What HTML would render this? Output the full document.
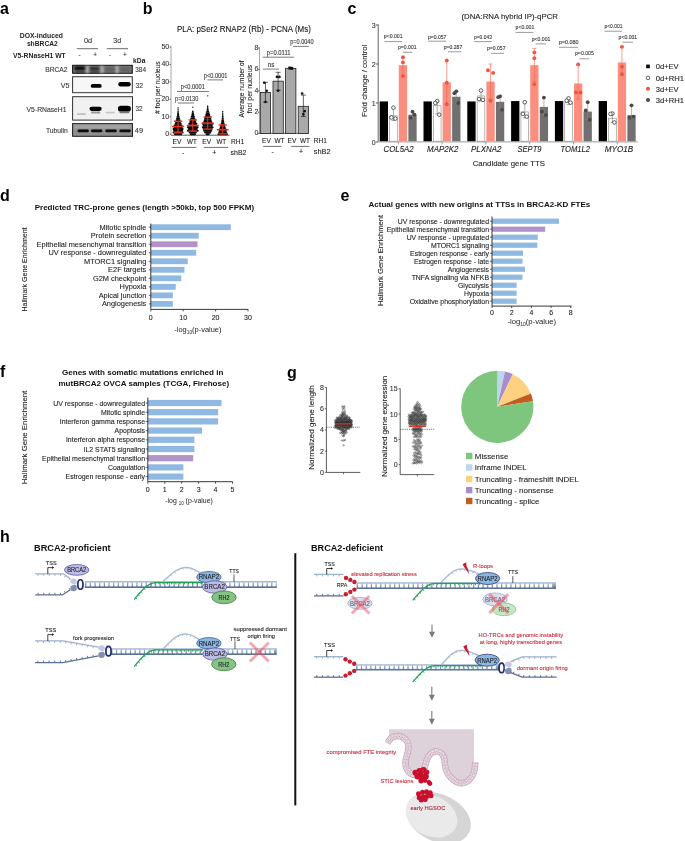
<!DOCTYPE html>
<html><head><meta charset="utf-8"><style>
html,body{margin:0;padding:0;background:#fff;}
body{width:685px;height:841px;overflow:hidden;}
svg{display:block;font-family:"Liberation Sans", sans-serif;will-change:transform;}
</style></head><body>
<svg width="685" height="841" viewBox="0 0 685 841" font-family='"Liberation Sans", sans-serif'>
<defs>
<linearGradient id="dg" x1="0" y1="0" x2="0" y2="1"><stop offset="0" stop-color="#b4c5dc"/><stop offset="1" stop-color="#5f7597"/></linearGradient>
<filter id="bl" x="-50%" y="-50%" width="200%" height="200%"><feGaussianBlur stdDeviation="0.7"/></filter>
<filter id="bl2" x="-50%" y="-50%" width="200%" height="200%"><feGaussianBlur stdDeviation="1.2"/></filter>
<filter id="bl3" x="-20%" y="-20%" width="140%" height="140%"><feGaussianBlur stdDeviation="0.4"/></filter>
</defs>
<text x="0.00" y="13.80" font-size="16" fill="#000" font-weight="bold" >a</text>
<text x="142.80" y="13.90" font-size="16" fill="#000" font-weight="bold" >b</text>
<text x="347.50" y="14.00" font-size="16" fill="#000" font-weight="bold" >c</text>
<text x="0.00" y="201.00" font-size="16" fill="#000" font-weight="bold" >d</text>
<text x="340.40" y="200.50" font-size="16" fill="#000" font-weight="bold" >e</text>
<text x="0.10" y="376.70" font-size="16" fill="#000" font-weight="bold" >f</text>
<text x="287.00" y="377.50" font-size="16" fill="#000" font-weight="bold" >g</text>
<text x="0.00" y="541.80" font-size="16" fill="#000" font-weight="bold" >h</text>
<text x="19.70" y="38.10" font-size="7.4" fill="#222" font-weight="bold" textLength="43.30" lengthAdjust="spacingAndGlyphs" >DOX-induced</text>
<text x="26.90" y="46.00" font-size="7.4" fill="#222" font-weight="bold" textLength="30.90" lengthAdjust="spacingAndGlyphs" >shBRCA2</text>
<text x="13.10" y="57.80" font-size="7.4" fill="#222" font-weight="bold" textLength="52.60" lengthAdjust="spacingAndGlyphs" >V5-RNaseH1 WT</text>
<text x="84.00" y="43.10" font-size="7" fill="#333" stroke="#333" stroke-width="0.1" textLength="8.20" lengthAdjust="spacingAndGlyphs" >0d</text>
<text x="113.20" y="43.10" font-size="7" fill="#333" stroke="#333" stroke-width="0.1" textLength="7.90" lengthAdjust="spacingAndGlyphs" >3d</text>
<line x1="76.80" y1="48.70" x2="98.10" y2="48.70" stroke="#444" stroke-width="0.8" />
<line x1="106.90" y1="48.70" x2="128.10" y2="48.70" stroke="#444" stroke-width="0.8" />
<text x="79.70" y="57.20" font-size="6.5" fill="#333" stroke="#333" stroke-width="0.1" text-anchor="middle" >-</text>
<text x="95.20" y="57.20" font-size="6.5" fill="#333" stroke="#333" stroke-width="0.1" text-anchor="middle" >+</text>
<text x="110.00" y="57.20" font-size="6.5" fill="#333" stroke="#333" stroke-width="0.1" text-anchor="middle" >-</text>
<text x="124.80" y="57.20" font-size="6.5" fill="#333" stroke="#333" stroke-width="0.1" text-anchor="middle" >+</text>
<text x="133.00" y="63.10" font-size="7" fill="#222" font-weight="bold" textLength="12.40" lengthAdjust="spacingAndGlyphs" >kDa</text>
<text x="45.20" y="72.10" font-size="7.4" fill="#333" stroke="#333" stroke-width="0.1" textLength="22.30" lengthAdjust="spacingAndGlyphs" >BRCA2</text>
<text x="60.80" y="87.50" font-size="7.4" fill="#333" stroke="#333" stroke-width="0.1" textLength="8.70" lengthAdjust="spacingAndGlyphs" >V5</text>
<text x="26.60" y="111.60" font-size="7.4" fill="#333" stroke="#333" stroke-width="0.1" textLength="39.90" lengthAdjust="spacingAndGlyphs" >V5-RNaseH1</text>
<text x="46.00" y="132.50" font-size="7.4" fill="#333" stroke="#333" stroke-width="0.1" textLength="21.80" lengthAdjust="spacingAndGlyphs" >Tubulin</text>
<text x="135.20" y="72.10" font-size="7.4" fill="#333" stroke="#333" stroke-width="0.1" textLength="10.80" lengthAdjust="spacingAndGlyphs" >384</text>
<text x="135.50" y="87.60" font-size="7.4" fill="#333" stroke="#333" stroke-width="0.1" textLength="7.50" lengthAdjust="spacingAndGlyphs" >32</text>
<text x="135.40" y="111.40" font-size="7.4" fill="#333" stroke="#333" stroke-width="0.1" textLength="7.00" lengthAdjust="spacingAndGlyphs" >32</text>
<text x="134.80" y="132.50" font-size="7.4" fill="#333" stroke="#333" stroke-width="0.1" textLength="8.20" lengthAdjust="spacingAndGlyphs" >49</text>
<rect x="72.60" y="65.30" width="59.70" height="8.00" fill="#747474" stroke="#111" stroke-width="1" />
<g filter="url(#bl2)">
<rect x="85.40" y="66.00" width="4.00" height="7.00" fill="#a8a8a8" stroke="none" stroke-width="0" />
<rect x="99.80" y="66.00" width="4.00" height="7.00" fill="#a8a8a8" stroke="none" stroke-width="0" />
<rect x="115.00" y="66.00" width="4.00" height="7.00" fill="#a8a8a8" stroke="none" stroke-width="0" />
</g>
<rect x="74.20" y="66.60" width="11.00" height="3.40" rx="1.70" ry="1.70" fill="#000" filter="url(#bl2)"/>
<rect x="89.60" y="67.20" width="10.00" height="2.80" rx="1.40" ry="1.40" fill="#1e1e1e" filter="url(#bl2)"/>
<rect x="105.00" y="67.80" width="10.00" height="2.40" rx="1.20" ry="1.20" fill="#5a5a5a" filter="url(#bl2)"/>
<rect x="119.70" y="67.80" width="11.00" height="2.40" rx="1.20" ry="1.20" fill="#5c5c5c" filter="url(#bl2)"/>
<rect x="75.00" y="70.90" width="10.00" height="1.80" rx="0.90" ry="0.90" fill="#2a2a2a" filter="url(#bl2)"/>
<rect x="89.60" y="70.90" width="10.00" height="1.80" rx="0.90" ry="0.90" fill="#333" filter="url(#bl2)"/>
<rect x="105.00" y="71.00" width="10.00" height="1.60" rx="0.80" ry="0.80" fill="#5a5a5a" filter="url(#bl2)"/>
<rect x="120.20" y="71.00" width="10.00" height="1.60" rx="0.80" ry="0.80" fill="#5a5a5a" filter="url(#bl2)"/>
<rect x="72.60" y="76.70" width="59.70" height="16.00" fill="#f7f7f7" stroke="#333" stroke-width="1" />
<rect x="90.70" y="84.00" width="11.00" height="3.80" rx="1.90" ry="1.90" fill="#000" filter="url(#bl)"/>
<rect x="118.30" y="82.00" width="12.40" height="4.40" rx="2.20" ry="2.20" fill="#000" filter="url(#bl)"/>
<rect x="72.60" y="96.70" width="59.90" height="23.40" fill="#f1f1f1" stroke="#333" stroke-width="1" />
<rect x="89.50" y="106.70" width="12.20" height="4.20" rx="2.10" ry="2.10" fill="#000" filter="url(#bl)"/>
<rect x="117.90" y="105.70" width="13.00" height="6.00" rx="3.00" ry="3.00" fill="#000" filter="url(#bl)"/>
<rect x="90.85" y="111.60" width="9.50" height="2.00" rx="1.00" ry="1.00" fill="#9a9a9a" filter="url(#bl)"/>
<rect x="119.40" y="111.20" width="10.00" height="2.00" rx="1.00" ry="1.00" fill="#777" filter="url(#bl)"/>
<rect x="76.80" y="113.30" width="9.00" height="1.80" rx="0.90" ry="0.90" fill="#c0c0c0" filter="url(#bl)"/>
<rect x="105.35" y="111.80" width="9.50" height="1.60" rx="0.80" ry="0.80" fill="#c8c8c8" filter="url(#bl)"/>
<rect x="72.60" y="123.60" width="59.90" height="12.70" fill="#8e8e8e" stroke="#1a1a1a" stroke-width="1" />
<g filter="url(#bl2)">
<rect x="74.00" y="125.00" width="57.00" height="3.50" fill="#a6a6a6" stroke="none" stroke-width="0" />
</g>
<rect x="77.50" y="129.60" width="11.40" height="2.60" rx="1.30" ry="1.30" fill="#0c0c0c" filter="url(#bl3)"/>
<rect x="91.00" y="129.60" width="11.40" height="2.60" rx="1.30" ry="1.30" fill="#0c0c0c" filter="url(#bl3)"/>
<rect x="105.30" y="129.60" width="11.40" height="2.60" rx="1.30" ry="1.30" fill="#0c0c0c" filter="url(#bl3)"/>
<rect x="119.40" y="129.60" width="11.40" height="2.60" rx="1.30" ry="1.30" fill="#0c0c0c" filter="url(#bl3)"/>
<text x="177.00" y="31.80" font-size="8.2" fill="#111" stroke="#111" stroke-width="0.1" textLength="133.80" lengthAdjust="spacingAndGlyphs" >PLA: pSer2 RNAP2 (Rb) - PCNA (Ms)</text>
<line x1="171.00" y1="46.30" x2="171.00" y2="135.20" stroke="#a8a8a8" stroke-width="1.0" />
<line x1="171.00" y1="135.20" x2="229.50" y2="135.20" stroke="#333" stroke-width="0.8" />
<line x1="169.50" y1="134.20" x2="171.00" y2="134.20" stroke="#333" stroke-width="0.7" />
<text x="169.20" y="136.00" font-size="7.0" fill="#333" stroke="#333" stroke-width="0.1" text-anchor="end" >0</text>
<line x1="169.50" y1="116.76" x2="171.00" y2="116.76" stroke="#333" stroke-width="0.7" />
<text x="169.20" y="118.56" font-size="7.0" fill="#333" stroke="#333" stroke-width="0.1" text-anchor="end" >10</text>
<line x1="169.50" y1="99.32" x2="171.00" y2="99.32" stroke="#333" stroke-width="0.7" />
<text x="169.20" y="101.12" font-size="7.0" fill="#333" stroke="#333" stroke-width="0.1" text-anchor="end" >20</text>
<line x1="169.50" y1="81.88" x2="171.00" y2="81.88" stroke="#333" stroke-width="0.7" />
<text x="169.20" y="83.68" font-size="7.0" fill="#333" stroke="#333" stroke-width="0.1" text-anchor="end" >30</text>
<line x1="169.50" y1="64.44" x2="171.00" y2="64.44" stroke="#333" stroke-width="0.7" />
<text x="169.20" y="66.24" font-size="7.0" fill="#333" stroke="#333" stroke-width="0.1" text-anchor="end" >40</text>
<line x1="169.50" y1="47.00" x2="171.00" y2="47.00" stroke="#333" stroke-width="0.7" />
<text x="169.20" y="48.80" font-size="7.0" fill="#333" stroke="#333" stroke-width="0.1" text-anchor="end" >50</text>
<text x="159.60" y="87.60" font-size="7.3" fill="#222" stroke="#222" stroke-width="0.1" text-anchor="middle" textLength="52.60" lengthAdjust="spacingAndGlyphs" transform="rotate(-90 159.60 87.60)" ># foci per nucleus</text>
<g fill="#0a0a0a"><rect x="174.10" y="133.20" width="8.00" height="2.0" rx="0.8"/><rect x="172.60" y="131.46" width="11.00" height="2.0" rx="0.8"/><rect x="173.10" y="129.71" width="10.00" height="2.0" rx="0.8"/><rect x="172.60" y="127.97" width="11.00" height="2.0" rx="0.8"/><rect x="173.60" y="126.22" width="9.00" height="2.0" rx="0.8"/><rect x="173.60" y="124.48" width="9.00" height="2.0" rx="0.8"/><rect x="174.60" y="122.74" width="7.00" height="2.0" rx="0.8"/><rect x="175.10" y="120.99" width="6.00" height="2.0" rx="0.8"/><rect x="175.60" y="119.25" width="5.00" height="2.0" rx="0.8"/><rect x="176.10" y="117.50" width="4.00" height="2.0" rx="0.8"/><rect x="176.60" y="115.76" width="3.00" height="2.0" rx="0.8"/><rect x="176.90" y="114.02" width="2.40" height="2.0" rx="0.8"/><rect x="177.10" y="112.27" width="2.00" height="2.0" rx="0.8"/><rect x="177.40" y="110.53" width="1.40" height="2.0" rx="0.8"/></g>
<circle cx="178.10" cy="109.78" r="0.70" fill="#111" stroke="none" stroke-width="0" />
<circle cx="178.10" cy="108.04" r="0.70" fill="#111" stroke="none" stroke-width="0" />
<line x1="172.10" y1="126.53" x2="184.10" y2="126.53" stroke="#e8321e" stroke-width="1.5" />
<line x1="173.90" y1="121.29" x2="182.30" y2="121.29" stroke="#e8321e" stroke-width="1.4" />
<line x1="173.90" y1="132.46" x2="182.30" y2="132.46" stroke="#e8321e" stroke-width="1.4" />
<line x1="178.10" y1="121.29" x2="178.10" y2="132.46" stroke="#e8321e" stroke-width="1.1" />
<g fill="#0a0a0a"><rect x="189.80" y="133.20" width="6.00" height="2.0" rx="0.8"/><rect x="188.80" y="131.46" width="8.00" height="2.0" rx="0.8"/><rect x="187.00" y="129.71" width="11.60" height="2.0" rx="0.8"/><rect x="187.80" y="127.97" width="10.00" height="2.0" rx="0.8"/><rect x="187.00" y="126.22" width="11.60" height="2.0" rx="0.8"/><rect x="188.30" y="124.48" width="9.00" height="2.0" rx="0.8"/><rect x="188.30" y="122.74" width="9.00" height="2.0" rx="0.8"/><rect x="189.30" y="120.99" width="7.00" height="2.0" rx="0.8"/><rect x="189.80" y="119.25" width="6.00" height="2.0" rx="0.8"/><rect x="190.30" y="117.50" width="5.00" height="2.0" rx="0.8"/><rect x="190.80" y="115.76" width="4.00" height="2.0" rx="0.8"/><rect x="191.30" y="114.02" width="3.00" height="2.0" rx="0.8"/><rect x="191.60" y="112.27" width="2.40" height="2.0" rx="0.8"/><rect x="192.00" y="110.53" width="1.60" height="2.0" rx="0.8"/></g>
<circle cx="192.80" cy="107.17" r="0.70" fill="#111" stroke="none" stroke-width="0" />
<line x1="186.80" y1="125.48" x2="198.80" y2="125.48" stroke="#e8321e" stroke-width="1.5" />
<line x1="188.60" y1="119.90" x2="197.00" y2="119.90" stroke="#e8321e" stroke-width="1.4" />
<line x1="188.60" y1="131.06" x2="197.00" y2="131.06" stroke="#e8321e" stroke-width="1.4" />
<line x1="192.80" y1="119.90" x2="192.80" y2="131.06" stroke="#e8321e" stroke-width="1.1" />
<g fill="#0a0a0a"><rect x="205.70" y="133.20" width="4.00" height="2.0" rx="0.8"/><rect x="204.20" y="131.46" width="7.00" height="2.0" rx="0.8"/><rect x="203.20" y="129.71" width="9.00" height="2.0" rx="0.8"/><rect x="202.70" y="127.97" width="10.00" height="2.0" rx="0.8"/><rect x="201.90" y="126.22" width="11.60" height="2.0" rx="0.8"/><rect x="202.70" y="124.48" width="10.00" height="2.0" rx="0.8"/><rect x="201.90" y="122.74" width="11.60" height="2.0" rx="0.8"/><rect x="203.20" y="120.99" width="9.00" height="2.0" rx="0.8"/><rect x="203.70" y="119.25" width="8.00" height="2.0" rx="0.8"/><rect x="204.20" y="117.50" width="7.00" height="2.0" rx="0.8"/><rect x="204.70" y="115.76" width="6.00" height="2.0" rx="0.8"/><rect x="205.20" y="114.02" width="5.00" height="2.0" rx="0.8"/><rect x="205.70" y="112.27" width="4.00" height="2.0" rx="0.8"/><rect x="206.20" y="110.53" width="3.00" height="2.0" rx="0.8"/><rect x="206.70" y="108.78" width="2.00" height="2.0" rx="0.8"/><rect x="206.90" y="107.04" width="1.60" height="2.0" rx="0.8"/><rect x="207.10" y="105.30" width="1.20" height="2.0" rx="0.8"/></g>
<circle cx="207.70" cy="95.83" r="0.70" fill="#111" stroke="none" stroke-width="0" />
<line x1="201.70" y1="123.04" x2="213.70" y2="123.04" stroke="#e8321e" stroke-width="1.5" />
<line x1="203.50" y1="117.11" x2="211.90" y2="117.11" stroke="#e8321e" stroke-width="1.4" />
<line x1="203.50" y1="129.14" x2="211.90" y2="129.14" stroke="#e8321e" stroke-width="1.4" />
<line x1="207.70" y1="117.11" x2="207.70" y2="129.14" stroke="#e8321e" stroke-width="1.1" />
<g fill="#0a0a0a"><rect x="217.50" y="133.20" width="10.40" height="2.0" rx="0.8"/><rect x="218.20" y="131.46" width="9.00" height="2.0" rx="0.8"/><rect x="218.70" y="129.71" width="8.00" height="2.0" rx="0.8"/><rect x="219.20" y="127.97" width="7.00" height="2.0" rx="0.8"/><rect x="219.70" y="126.22" width="6.00" height="2.0" rx="0.8"/><rect x="220.20" y="124.48" width="5.00" height="2.0" rx="0.8"/><rect x="220.70" y="122.74" width="4.00" height="2.0" rx="0.8"/><rect x="221.10" y="120.99" width="3.20" height="2.0" rx="0.8"/><rect x="221.40" y="119.25" width="2.60" height="2.0" rx="0.8"/><rect x="221.70" y="117.50" width="2.00" height="2.0" rx="0.8"/><rect x="221.80" y="115.76" width="1.80" height="2.0" rx="0.8"/><rect x="222.00" y="114.02" width="1.40" height="2.0" rx="0.8"/><rect x="222.10" y="112.27" width="1.20" height="2.0" rx="0.8"/></g>
<circle cx="222.70" cy="111.53" r="0.70" fill="#111" stroke="none" stroke-width="0" />
<line x1="216.70" y1="129.67" x2="228.70" y2="129.67" stroke="#e8321e" stroke-width="1.5" />
<line x1="218.50" y1="124.96" x2="226.90" y2="124.96" stroke="#e8321e" stroke-width="1.4" />
<line x1="218.50" y1="133.85" x2="226.90" y2="133.85" stroke="#e8321e" stroke-width="1.4" />
<line x1="222.70" y1="124.96" x2="222.70" y2="133.85" stroke="#e8321e" stroke-width="1.1" />
<text x="177.00" y="143.90" font-size="7.3" fill="#222" stroke="#222" stroke-width="0.1" text-anchor="middle" textLength="8.90" lengthAdjust="spacingAndGlyphs" >EV</text>
<text x="191.90" y="143.90" font-size="7.3" fill="#222" stroke="#222" stroke-width="0.1" text-anchor="middle" textLength="9.80" lengthAdjust="spacingAndGlyphs" >WT</text>
<text x="206.70" y="143.90" font-size="7.3" fill="#222" stroke="#222" stroke-width="0.1" text-anchor="middle" textLength="8.90" lengthAdjust="spacingAndGlyphs" >EV</text>
<text x="221.30" y="143.90" font-size="7.3" fill="#222" stroke="#222" stroke-width="0.1" text-anchor="middle" textLength="9.80" lengthAdjust="spacingAndGlyphs" >WT</text>
<text x="231.00" y="143.90" font-size="7.4" fill="#222" stroke="#222" stroke-width="0.1" textLength="13.20" lengthAdjust="spacingAndGlyphs" >RH1</text>
<line x1="171.70" y1="147.40" x2="196.40" y2="147.40" stroke="#333" stroke-width="0.7" />
<line x1="203.80" y1="147.40" x2="228.00" y2="147.40" stroke="#333" stroke-width="0.7" />
<text x="183.20" y="155.00" font-size="7" fill="#222" stroke="#222" stroke-width="0.1" text-anchor="middle" >-</text>
<text x="214.30" y="155.20" font-size="7" fill="#222" stroke="#222" stroke-width="0.1" text-anchor="middle" >+</text>
<text x="230.60" y="155.20" font-size="7.4" fill="#222" stroke="#222" stroke-width="0.1" textLength="15.80" lengthAdjust="spacingAndGlyphs" >shB2</text>
<text x="203.80" y="78.10" font-size="6.3" fill="#333" stroke="#333" stroke-width="0.1" textLength="23.70" lengthAdjust="spacingAndGlyphs" >p&lt;0.0001</text>
<line x1="207.50" y1="79.90" x2="223.00" y2="79.90" stroke="#444" stroke-width="0.7" />
<text x="180.80" y="88.90" font-size="6.3" fill="#333" stroke="#333" stroke-width="0.1" textLength="24.10" lengthAdjust="spacingAndGlyphs" >p&lt;0.0001</text>
<line x1="177.00" y1="91.50" x2="208.80" y2="91.50" stroke="#444" stroke-width="0.7" />
<text x="175.00" y="100.70" font-size="6.3" fill="#333" stroke="#333" stroke-width="0.1" textLength="23.30" lengthAdjust="spacingAndGlyphs" >p=0.0130</text>
<line x1="177.80" y1="103.00" x2="194.00" y2="103.00" stroke="#444" stroke-width="0.7" />
<line x1="259.50" y1="47.20" x2="259.50" y2="133.30" stroke="#a8a8a8" stroke-width="1.0" />
<line x1="259.50" y1="133.30" x2="309.00" y2="133.30" stroke="#333" stroke-width="0.8" />
<line x1="258.00" y1="133.60" x2="259.50" y2="133.60" stroke="#333" stroke-width="0.7" />
<text x="258.40" y="135.40" font-size="7.0" fill="#333" stroke="#333" stroke-width="0.1" text-anchor="end" >0</text>
<line x1="258.00" y1="112.20" x2="259.50" y2="112.20" stroke="#333" stroke-width="0.7" />
<text x="258.40" y="114.00" font-size="7.0" fill="#333" stroke="#333" stroke-width="0.1" text-anchor="end" >2</text>
<line x1="258.00" y1="90.80" x2="259.50" y2="90.80" stroke="#333" stroke-width="0.7" />
<text x="258.40" y="92.60" font-size="7.0" fill="#333" stroke="#333" stroke-width="0.1" text-anchor="end" >4</text>
<line x1="258.00" y1="69.40" x2="259.50" y2="69.40" stroke="#333" stroke-width="0.7" />
<text x="258.40" y="71.20" font-size="7.0" fill="#333" stroke="#333" stroke-width="0.1" text-anchor="end" >6</text>
<line x1="258.00" y1="48.00" x2="259.50" y2="48.00" stroke="#333" stroke-width="0.7" />
<text x="258.40" y="49.80" font-size="7.0" fill="#333" stroke="#333" stroke-width="0.1" text-anchor="end" >8</text>
<text x="244.00" y="88.90" font-size="7.3" fill="#222" stroke="#222" stroke-width="0.1" text-anchor="middle" textLength="57.00" lengthAdjust="spacingAndGlyphs" transform="rotate(-90 244.00 88.90)" >Average number of</text>
<text x="252.20" y="89.20" font-size="7.3" fill="#222" stroke="#222" stroke-width="0.1" text-anchor="middle" textLength="48.30" lengthAdjust="spacingAndGlyphs" transform="rotate(-90 252.20 89.20)" >foci per nucleus</text>
<rect x="260.30" y="92.41" width="10.30" height="41.19" fill="#a9a9a9" stroke="#222" stroke-width="0.8" />
<line x1="265.45" y1="82.24" x2="265.45" y2="102.03" stroke="#222" stroke-width="0.7" />
<line x1="262.95" y1="82.24" x2="267.95" y2="82.24" stroke="#222" stroke-width="0.7" />
<line x1="262.95" y1="102.03" x2="267.95" y2="102.03" stroke="#222" stroke-width="0.7" />
<circle cx="264.25" cy="82.78" r="1.30" fill="#111" stroke="none" stroke-width="0" />
<circle cx="266.75" cy="90.80" r="1.30" fill="#111" stroke="none" stroke-width="0" />
<circle cx="265.45" cy="102.03" r="1.30" fill="#111" stroke="none" stroke-width="0" />
<rect x="273.00" y="81.17" width="10.30" height="52.43" fill="#a9a9a9" stroke="#222" stroke-width="0.8" />
<line x1="278.15" y1="72.29" x2="278.15" y2="90.27" stroke="#222" stroke-width="0.7" />
<line x1="275.65" y1="72.29" x2="280.65" y2="72.29" stroke="#222" stroke-width="0.7" />
<line x1="275.65" y1="90.27" x2="280.65" y2="90.27" stroke="#222" stroke-width="0.7" />
<circle cx="276.95" cy="76.89" r="1.30" fill="#111" stroke="none" stroke-width="0" />
<circle cx="279.45" cy="76.89" r="1.30" fill="#111" stroke="none" stroke-width="0" />
<circle cx="278.15" cy="90.80" r="1.30" fill="#111" stroke="none" stroke-width="0" />
<rect x="285.60" y="68.33" width="10.30" height="65.27" fill="#a9a9a9" stroke="#222" stroke-width="0.8" />
<line x1="290.75" y1="67.26" x2="290.75" y2="69.40" stroke="#222" stroke-width="0.7" />
<line x1="288.25" y1="67.26" x2="293.25" y2="67.26" stroke="#222" stroke-width="0.7" />
<line x1="288.25" y1="69.40" x2="293.25" y2="69.40" stroke="#222" stroke-width="0.7" />
<circle cx="289.55" cy="67.80" r="1.30" fill="#111" stroke="none" stroke-width="0" />
<circle cx="292.05" cy="68.33" r="1.30" fill="#111" stroke="none" stroke-width="0" />
<circle cx="290.75" cy="68.12" r="1.30" fill="#111" stroke="none" stroke-width="0" />
<rect x="298.20" y="106.31" width="10.30" height="27.28" fill="#a9a9a9" stroke="#222" stroke-width="0.8" />
<line x1="303.35" y1="95.08" x2="303.35" y2="116.48" stroke="#222" stroke-width="0.7" />
<line x1="300.85" y1="95.08" x2="305.85" y2="95.08" stroke="#222" stroke-width="0.7" />
<line x1="300.85" y1="116.48" x2="305.85" y2="116.48" stroke="#222" stroke-width="0.7" />
<circle cx="302.15" cy="93.47" r="1.30" fill="#111" stroke="none" stroke-width="0" />
<circle cx="304.65" cy="111.13" r="1.30" fill="#111" stroke="none" stroke-width="0" />
<circle cx="303.35" cy="114.34" r="1.30" fill="#111" stroke="none" stroke-width="0" />
<text x="266.40" y="142.70" font-size="7.3" fill="#222" stroke="#222" stroke-width="0.1" text-anchor="middle" textLength="8.80" lengthAdjust="spacingAndGlyphs" >EV</text>
<text x="279.50" y="142.70" font-size="7.3" fill="#222" stroke="#222" stroke-width="0.1" text-anchor="middle" textLength="10.00" lengthAdjust="spacingAndGlyphs" >WT</text>
<text x="291.90" y="142.70" font-size="7.3" fill="#222" stroke="#222" stroke-width="0.1" text-anchor="middle" textLength="8.80" lengthAdjust="spacingAndGlyphs" >EV</text>
<text x="305.00" y="142.70" font-size="7.3" fill="#222" stroke="#222" stroke-width="0.1" text-anchor="middle" textLength="10.00" lengthAdjust="spacingAndGlyphs" >WT</text>
<text x="313.80" y="142.70" font-size="7.4" fill="#222" stroke="#222" stroke-width="0.1" textLength="13.10" lengthAdjust="spacingAndGlyphs" >RH1</text>
<line x1="263.20" y1="146.40" x2="281.40" y2="146.40" stroke="#333" stroke-width="0.7" />
<line x1="291.20" y1="146.40" x2="309.20" y2="146.40" stroke="#333" stroke-width="0.7" />
<text x="272.70" y="153.60" font-size="7" fill="#222" stroke="#222" stroke-width="0.1" text-anchor="middle" >-</text>
<text x="301.00" y="153.60" font-size="7" fill="#222" stroke="#222" stroke-width="0.1" text-anchor="middle" >+</text>
<text x="313.80" y="153.60" font-size="7.4" fill="#222" stroke="#222" stroke-width="0.1" textLength="16.80" lengthAdjust="spacingAndGlyphs" >shB2</text>
<text x="266.80" y="54.80" font-size="6.3" fill="#333" stroke="#333" stroke-width="0.1" textLength="23.70" lengthAdjust="spacingAndGlyphs" >p=0.0111</text>
<line x1="262.70" y1="57.20" x2="294.10" y2="57.20" stroke="#444" stroke-width="0.7" />
<text x="267.80" y="66.90" font-size="6.3" fill="#333" stroke="#333" stroke-width="0.1" textLength="6.60" lengthAdjust="spacingAndGlyphs" >ns</text>
<line x1="263.00" y1="69.10" x2="279.00" y2="69.10" stroke="#444" stroke-width="0.7" />
<text x="290.20" y="44.20" font-size="6.3" fill="#333" stroke="#333" stroke-width="0.1" textLength="23.30" lengthAdjust="spacingAndGlyphs" >p=0.0040</text>
<line x1="293.00" y1="46.40" x2="308.70" y2="46.40" stroke="#444" stroke-width="0.7" />
<text x="461.40" y="19.20" font-size="7.6" fill="#222" stroke="#222" stroke-width="0.1" textLength="96.60" lengthAdjust="spacingAndGlyphs" >(DNA:RNA hybrid IP)-qPCR</text>
<line x1="378.20" y1="24.50" x2="378.20" y2="141.80" stroke="#555" stroke-width="0.9" />
<line x1="378.20" y1="141.90" x2="637.50" y2="141.90" stroke="#9a9a9a" stroke-width="1.0" />
<line x1="375.80" y1="142.00" x2="378.20" y2="142.00" stroke="#333" stroke-width="0.8" />
<text x="375.60" y="144.50" font-size="7" fill="#333" stroke="#333" stroke-width="0.1" text-anchor="end" >0</text>
<line x1="375.80" y1="103.00" x2="378.20" y2="103.00" stroke="#333" stroke-width="0.8" />
<text x="375.60" y="105.50" font-size="7" fill="#333" stroke="#333" stroke-width="0.1" text-anchor="end" >1</text>
<line x1="375.80" y1="64.00" x2="378.20" y2="64.00" stroke="#333" stroke-width="0.8" />
<text x="375.60" y="66.50" font-size="7" fill="#333" stroke="#333" stroke-width="0.1" text-anchor="end" >2</text>
<line x1="375.80" y1="25.00" x2="378.20" y2="25.00" stroke="#333" stroke-width="0.8" />
<text x="375.60" y="27.50" font-size="7" fill="#333" stroke="#333" stroke-width="0.1" text-anchor="end" >3</text>
<text x="367.40" y="80.90" font-size="7.8" fill="#222" stroke="#222" stroke-width="0.1" text-anchor="middle" textLength="72.30" lengthAdjust="spacingAndGlyphs" transform="rotate(-90 367.40 80.90)" >Fold change / control</text>
<rect x="379.70" y="101.44" width="8.30" height="39.76" fill="#000" stroke="none" stroke-width="0" />
<rect x="389.55" y="115.87" width="7.70" height="25.33" fill="#fff" stroke="#888" stroke-width="0.6" />
<rect x="398.80" y="65.17" width="8.30" height="76.03" fill="#fb8f7f" stroke="none" stroke-width="0" />
<rect x="408.35" y="114.70" width="8.30" height="26.50" fill="#707070" stroke="none" stroke-width="0" />
<line x1="393.40" y1="107.68" x2="393.40" y2="120.55" stroke="#777" stroke-width="0.6" />
<line x1="391.40" y1="107.68" x2="395.40" y2="107.68" stroke="#777" stroke-width="0.6" />
<line x1="391.40" y1="120.55" x2="395.40" y2="120.55" stroke="#777" stroke-width="0.6" />
<line x1="402.95" y1="56.20" x2="402.95" y2="75.70" stroke="#f0604c" stroke-width="0.6" />
<line x1="400.95" y1="56.20" x2="404.95" y2="56.20" stroke="#f0604c" stroke-width="0.6" />
<line x1="400.95" y1="75.70" x2="404.95" y2="75.70" stroke="#f0604c" stroke-width="0.6" />
<line x1="412.50" y1="112.75" x2="412.50" y2="117.82" stroke="#888" stroke-width="0.6" />
<line x1="410.50" y1="112.75" x2="414.50" y2="112.75" stroke="#888" stroke-width="0.6" />
<line x1="410.50" y1="117.82" x2="414.50" y2="117.82" stroke="#888" stroke-width="0.6" />
<circle cx="393.40" cy="107.68" r="1.80" fill="#fff" stroke="#222" stroke-width="0.7" />
<circle cx="391.45" cy="117.43" r="1.80" fill="#fff" stroke="#222" stroke-width="0.7" />
<circle cx="395.35" cy="118.60" r="1.80" fill="#fff" stroke="#222" stroke-width="0.7" />
<circle cx="402.95" cy="57.37" r="1.90" fill="#f3533f" stroke="none" stroke-width="0" />
<circle cx="402.95" cy="62.44" r="1.90" fill="#f3533f" stroke="none" stroke-width="0" />
<circle cx="402.95" cy="76.09" r="1.90" fill="#f3533f" stroke="none" stroke-width="0" />
<circle cx="412.50" cy="111.58" r="1.90" fill="#4a4a4a" stroke="none" stroke-width="0" />
<circle cx="410.55" cy="117.82" r="1.90" fill="#4a4a4a" stroke="none" stroke-width="0" />
<circle cx="414.45" cy="114.70" r="1.90" fill="#4a4a4a" stroke="none" stroke-width="0" />
<rect x="423.50" y="101.44" width="8.30" height="39.76" fill="#000" stroke="none" stroke-width="0" />
<rect x="433.35" y="105.73" width="7.70" height="35.47" fill="#fff" stroke="#888" stroke-width="0.6" />
<rect x="442.60" y="82.33" width="8.30" height="58.87" fill="#fb8f7f" stroke="none" stroke-width="0" />
<rect x="452.15" y="96.76" width="8.30" height="44.44" fill="#707070" stroke="none" stroke-width="0" />
<line x1="437.20" y1="100.66" x2="437.20" y2="113.92" stroke="#777" stroke-width="0.6" />
<line x1="435.20" y1="100.66" x2="439.20" y2="100.66" stroke="#777" stroke-width="0.6" />
<line x1="435.20" y1="113.92" x2="439.20" y2="113.92" stroke="#777" stroke-width="0.6" />
<line x1="446.75" y1="60.49" x2="446.75" y2="104.17" stroke="#f0604c" stroke-width="0.6" />
<line x1="444.75" y1="60.49" x2="448.75" y2="60.49" stroke="#f0604c" stroke-width="0.6" />
<line x1="444.75" y1="104.17" x2="448.75" y2="104.17" stroke="#f0604c" stroke-width="0.6" />
<line x1="456.30" y1="91.30" x2="456.30" y2="103.00" stroke="#888" stroke-width="0.6" />
<line x1="454.30" y1="91.30" x2="458.30" y2="91.30" stroke="#888" stroke-width="0.6" />
<line x1="454.30" y1="103.00" x2="458.30" y2="103.00" stroke="#888" stroke-width="0.6" />
<circle cx="437.20" cy="101.05" r="1.80" fill="#fff" stroke="#222" stroke-width="0.7" />
<circle cx="435.25" cy="103.00" r="1.80" fill="#fff" stroke="#222" stroke-width="0.7" />
<circle cx="439.15" cy="114.70" r="1.80" fill="#fff" stroke="#222" stroke-width="0.7" />
<circle cx="446.75" cy="60.49" r="1.90" fill="#f3533f" stroke="none" stroke-width="0" />
<circle cx="446.75" cy="82.72" r="1.90" fill="#f3533f" stroke="none" stroke-width="0" />
<circle cx="446.75" cy="104.17" r="1.90" fill="#f3533f" stroke="none" stroke-width="0" />
<circle cx="456.30" cy="91.30" r="1.90" fill="#4a4a4a" stroke="none" stroke-width="0" />
<circle cx="454.35" cy="93.25" r="1.90" fill="#4a4a4a" stroke="none" stroke-width="0" />
<circle cx="458.25" cy="103.00" r="1.90" fill="#4a4a4a" stroke="none" stroke-width="0" />
<rect x="467.30" y="101.44" width="8.30" height="39.76" fill="#000" stroke="none" stroke-width="0" />
<rect x="477.15" y="95.98" width="7.70" height="45.22" fill="#fff" stroke="#888" stroke-width="0.6" />
<rect x="486.40" y="81.55" width="8.30" height="59.65" fill="#fb8f7f" stroke="none" stroke-width="0" />
<rect x="495.95" y="101.83" width="8.30" height="39.37" fill="#707070" stroke="none" stroke-width="0" />
<line x1="481.00" y1="90.52" x2="481.00" y2="101.05" stroke="#777" stroke-width="0.6" />
<line x1="479.00" y1="90.52" x2="483.00" y2="90.52" stroke="#777" stroke-width="0.6" />
<line x1="479.00" y1="101.05" x2="483.00" y2="101.05" stroke="#777" stroke-width="0.6" />
<line x1="490.55" y1="64.00" x2="490.55" y2="99.10" stroke="#f0604c" stroke-width="0.6" />
<line x1="488.55" y1="64.00" x2="492.55" y2="64.00" stroke="#f0604c" stroke-width="0.6" />
<line x1="488.55" y1="99.10" x2="492.55" y2="99.10" stroke="#f0604c" stroke-width="0.6" />
<line x1="500.10" y1="95.20" x2="500.10" y2="108.85" stroke="#888" stroke-width="0.6" />
<line x1="498.10" y1="95.20" x2="502.10" y2="95.20" stroke="#888" stroke-width="0.6" />
<line x1="498.10" y1="108.85" x2="502.10" y2="108.85" stroke="#888" stroke-width="0.6" />
<circle cx="481.00" cy="90.52" r="1.80" fill="#fff" stroke="#222" stroke-width="0.7" />
<circle cx="479.05" cy="99.10" r="1.80" fill="#fff" stroke="#222" stroke-width="0.7" />
<circle cx="482.95" cy="99.88" r="1.80" fill="#fff" stroke="#222" stroke-width="0.7" />
<circle cx="487.95" cy="70.24" r="1.90" fill="#f3533f" stroke="none" stroke-width="0" />
<circle cx="493.15" cy="72.97" r="1.90" fill="#f3533f" stroke="none" stroke-width="0" />
<circle cx="490.55" cy="100.66" r="1.90" fill="#f3533f" stroke="none" stroke-width="0" />
<circle cx="500.10" cy="96.37" r="1.90" fill="#4a4a4a" stroke="none" stroke-width="0" />
<circle cx="498.15" cy="97.15" r="1.90" fill="#4a4a4a" stroke="none" stroke-width="0" />
<circle cx="502.05" cy="109.63" r="1.90" fill="#4a4a4a" stroke="none" stroke-width="0" />
<rect x="511.10" y="101.05" width="8.30" height="40.15" fill="#000" stroke="none" stroke-width="0" />
<rect x="520.95" y="111.97" width="7.70" height="29.23" fill="#fff" stroke="#888" stroke-width="0.6" />
<rect x="530.20" y="65.17" width="8.30" height="76.03" fill="#fb8f7f" stroke="none" stroke-width="0" />
<rect x="539.75" y="106.90" width="8.30" height="34.30" fill="#707070" stroke="none" stroke-width="0" />
<line x1="524.80" y1="102.22" x2="524.80" y2="117.82" stroke="#777" stroke-width="0.6" />
<line x1="522.80" y1="102.22" x2="526.80" y2="102.22" stroke="#777" stroke-width="0.6" />
<line x1="522.80" y1="117.82" x2="526.80" y2="117.82" stroke="#777" stroke-width="0.6" />
<line x1="534.35" y1="48.40" x2="534.35" y2="81.55" stroke="#f0604c" stroke-width="0.6" />
<line x1="532.35" y1="48.40" x2="536.35" y2="48.40" stroke="#f0604c" stroke-width="0.6" />
<line x1="532.35" y1="81.55" x2="536.35" y2="81.55" stroke="#f0604c" stroke-width="0.6" />
<line x1="543.90" y1="97.54" x2="543.90" y2="114.70" stroke="#888" stroke-width="0.6" />
<line x1="541.90" y1="97.54" x2="545.90" y2="97.54" stroke="#888" stroke-width="0.6" />
<line x1="541.90" y1="114.70" x2="545.90" y2="114.70" stroke="#888" stroke-width="0.6" />
<circle cx="524.80" cy="102.22" r="1.80" fill="#fff" stroke="#222" stroke-width="0.7" />
<circle cx="522.85" cy="113.92" r="1.80" fill="#fff" stroke="#222" stroke-width="0.7" />
<circle cx="526.75" cy="116.65" r="1.80" fill="#fff" stroke="#222" stroke-width="0.7" />
<circle cx="534.35" cy="52.30" r="1.90" fill="#f3533f" stroke="none" stroke-width="0" />
<circle cx="534.35" cy="58.15" r="1.90" fill="#f3533f" stroke="none" stroke-width="0" />
<circle cx="534.35" cy="84.28" r="1.90" fill="#f3533f" stroke="none" stroke-width="0" />
<circle cx="543.90" cy="97.54" r="1.90" fill="#4a4a4a" stroke="none" stroke-width="0" />
<circle cx="541.95" cy="111.58" r="1.90" fill="#4a4a4a" stroke="none" stroke-width="0" />
<circle cx="545.85" cy="115.09" r="1.90" fill="#4a4a4a" stroke="none" stroke-width="0" />
<rect x="554.90" y="101.05" width="8.30" height="40.15" fill="#000" stroke="none" stroke-width="0" />
<rect x="564.75" y="102.22" width="7.70" height="38.98" fill="#fff" stroke="#888" stroke-width="0.6" />
<rect x="574.00" y="83.50" width="8.30" height="57.70" fill="#fb8f7f" stroke="none" stroke-width="0" />
<rect x="583.55" y="111.58" width="8.30" height="29.62" fill="#707070" stroke="none" stroke-width="0" />
<line x1="568.60" y1="98.32" x2="568.60" y2="104.56" stroke="#777" stroke-width="0.6" />
<line x1="566.60" y1="98.32" x2="570.60" y2="98.32" stroke="#777" stroke-width="0.6" />
<line x1="566.60" y1="104.56" x2="570.60" y2="104.56" stroke="#777" stroke-width="0.6" />
<line x1="578.15" y1="64.78" x2="578.15" y2="99.10" stroke="#f0604c" stroke-width="0.6" />
<line x1="576.15" y1="64.78" x2="580.15" y2="64.78" stroke="#f0604c" stroke-width="0.6" />
<line x1="576.15" y1="99.10" x2="580.15" y2="99.10" stroke="#f0604c" stroke-width="0.6" />
<line x1="587.70" y1="102.22" x2="587.70" y2="119.38" stroke="#888" stroke-width="0.6" />
<line x1="585.70" y1="102.22" x2="589.70" y2="102.22" stroke="#888" stroke-width="0.6" />
<line x1="585.70" y1="119.38" x2="589.70" y2="119.38" stroke="#888" stroke-width="0.6" />
<circle cx="568.60" cy="98.32" r="1.80" fill="#fff" stroke="#222" stroke-width="0.7" />
<circle cx="566.65" cy="100.66" r="1.80" fill="#fff" stroke="#222" stroke-width="0.7" />
<circle cx="570.55" cy="102.61" r="1.80" fill="#fff" stroke="#222" stroke-width="0.7" />
<circle cx="578.15" cy="64.39" r="1.90" fill="#f3533f" stroke="none" stroke-width="0" />
<circle cx="575.95" cy="92.47" r="1.90" fill="#f3533f" stroke="none" stroke-width="0" />
<circle cx="580.45" cy="92.47" r="1.90" fill="#f3533f" stroke="none" stroke-width="0" />
<circle cx="587.70" cy="102.22" r="1.90" fill="#4a4a4a" stroke="none" stroke-width="0" />
<circle cx="585.75" cy="110.41" r="1.90" fill="#4a4a4a" stroke="none" stroke-width="0" />
<circle cx="589.65" cy="119.77" r="1.90" fill="#4a4a4a" stroke="none" stroke-width="0" />
<rect x="598.70" y="101.05" width="8.30" height="40.15" fill="#000" stroke="none" stroke-width="0" />
<rect x="608.55" y="118.21" width="7.70" height="22.99" fill="#fff" stroke="#888" stroke-width="0.6" />
<rect x="617.80" y="62.44" width="8.30" height="78.76" fill="#fb8f7f" stroke="none" stroke-width="0" />
<rect x="627.35" y="115.09" width="8.30" height="26.11" fill="#707070" stroke="none" stroke-width="0" />
<line x1="612.40" y1="113.14" x2="612.40" y2="122.50" stroke="#777" stroke-width="0.6" />
<line x1="610.40" y1="113.14" x2="614.40" y2="113.14" stroke="#777" stroke-width="0.6" />
<line x1="610.40" y1="122.50" x2="614.40" y2="122.50" stroke="#777" stroke-width="0.6" />
<line x1="621.95" y1="46.84" x2="621.95" y2="75.70" stroke="#f0604c" stroke-width="0.6" />
<line x1="619.95" y1="46.84" x2="623.95" y2="46.84" stroke="#f0604c" stroke-width="0.6" />
<line x1="619.95" y1="75.70" x2="623.95" y2="75.70" stroke="#f0604c" stroke-width="0.6" />
<line x1="631.50" y1="105.34" x2="631.50" y2="118.60" stroke="#888" stroke-width="0.6" />
<line x1="629.50" y1="105.34" x2="633.50" y2="105.34" stroke="#888" stroke-width="0.6" />
<line x1="629.50" y1="118.60" x2="633.50" y2="118.60" stroke="#888" stroke-width="0.6" />
<circle cx="612.40" cy="113.53" r="1.80" fill="#fff" stroke="#222" stroke-width="0.7" />
<circle cx="610.45" cy="113.92" r="1.80" fill="#fff" stroke="#222" stroke-width="0.7" />
<circle cx="614.35" cy="122.50" r="1.80" fill="#fff" stroke="#222" stroke-width="0.7" />
<circle cx="621.95" cy="46.84" r="1.90" fill="#f3533f" stroke="none" stroke-width="0" />
<circle cx="621.95" cy="66.73" r="1.90" fill="#f3533f" stroke="none" stroke-width="0" />
<circle cx="621.95" cy="74.14" r="1.90" fill="#f3533f" stroke="none" stroke-width="0" />
<circle cx="631.50" cy="105.34" r="1.90" fill="#4a4a4a" stroke="none" stroke-width="0" />
<circle cx="629.55" cy="117.82" r="1.90" fill="#4a4a4a" stroke="none" stroke-width="0" />
<circle cx="633.45" cy="116.65" r="1.90" fill="#4a4a4a" stroke="none" stroke-width="0" />
<line x1="398.30" y1="141.40" x2="398.30" y2="144.40" stroke="#888" stroke-width="0.8" />
<line x1="442.10" y1="141.40" x2="442.10" y2="144.40" stroke="#888" stroke-width="0.8" />
<line x1="485.90" y1="141.40" x2="485.90" y2="144.40" stroke="#888" stroke-width="0.8" />
<line x1="529.70" y1="141.40" x2="529.70" y2="144.40" stroke="#888" stroke-width="0.8" />
<line x1="573.50" y1="141.40" x2="573.50" y2="144.40" stroke="#888" stroke-width="0.8" />
<line x1="617.30" y1="141.40" x2="617.30" y2="144.40" stroke="#888" stroke-width="0.8" />
<text x="383.50" y="151.60" font-size="8.2" fill="#222" stroke="#222" stroke-width="0.1" font-style="italic" textLength="30.20" lengthAdjust="spacingAndGlyphs" >COL5A2</text>
<text x="427.00" y="151.60" font-size="8.2" fill="#222" stroke="#222" stroke-width="0.1" font-style="italic" textLength="31.50" lengthAdjust="spacingAndGlyphs" >MAP2K2</text>
<text x="471.00" y="151.60" font-size="8.2" fill="#222" stroke="#222" stroke-width="0.1" font-style="italic" textLength="30.50" lengthAdjust="spacingAndGlyphs" >PLXNA2</text>
<text x="517.50" y="151.60" font-size="8.2" fill="#222" stroke="#222" stroke-width="0.1" font-style="italic" textLength="24.00" lengthAdjust="spacingAndGlyphs" >SEPT9</text>
<text x="560.50" y="151.60" font-size="8.2" fill="#222" stroke="#222" stroke-width="0.1" font-style="italic" textLength="29.50" lengthAdjust="spacingAndGlyphs" >TOM1L2</text>
<text x="604.80" y="151.60" font-size="8.2" fill="#222" stroke="#222" stroke-width="0.1" font-style="italic" textLength="28.40" lengthAdjust="spacingAndGlyphs" >MYO1B</text>
<text x="472.70" y="165.70" font-size="7.8" fill="#222" stroke="#222" stroke-width="0.1" textLength="72.30" lengthAdjust="spacingAndGlyphs" >Candidate gene TTS</text>
<text x="383.80" y="38.30" font-size="5.4" fill="#333" stroke="#333" stroke-width="0.1" textLength="18.70" lengthAdjust="spacingAndGlyphs" >p&lt;0.001</text>
<line x1="384.50" y1="41.60" x2="402.00" y2="41.60" stroke="#555" stroke-width="0.6" />
<text x="398.00" y="49.20" font-size="5.4" fill="#333" stroke="#333" stroke-width="0.1" textLength="18.60" lengthAdjust="spacingAndGlyphs" >p=0.001</text>
<line x1="402.80" y1="52.30" x2="412.30" y2="52.30" stroke="#555" stroke-width="0.6" />
<text x="428.00" y="38.60" font-size="5.4" fill="#333" stroke="#333" stroke-width="0.1" textLength="18.40" lengthAdjust="spacingAndGlyphs" >p=0.057</text>
<line x1="428.00" y1="41.20" x2="446.40" y2="41.20" stroke="#555" stroke-width="0.6" />
<text x="443.80" y="49.10" font-size="5.4" fill="#333" stroke="#333" stroke-width="0.1" textLength="18.40" lengthAdjust="spacingAndGlyphs" >p=0.287</text>
<line x1="448.00" y1="51.80" x2="461.40" y2="51.80" stroke="#555" stroke-width="0.6" />
<text x="474.00" y="39.40" font-size="5.4" fill="#333" stroke="#333" stroke-width="0.1" textLength="17.90" lengthAdjust="spacingAndGlyphs" >p=0.043</text>
<line x1="474.00" y1="41.60" x2="491.90" y2="41.60" stroke="#555" stroke-width="0.6" />
<text x="487.00" y="49.90" font-size="5.4" fill="#333" stroke="#333" stroke-width="0.1" textLength="18.50" lengthAdjust="spacingAndGlyphs" >p=0.057</text>
<line x1="491.00" y1="53.30" x2="504.00" y2="53.30" stroke="#555" stroke-width="0.6" />
<text x="515.60" y="29.40" font-size="5.4" fill="#333" stroke="#333" stroke-width="0.1" textLength="18.70" lengthAdjust="spacingAndGlyphs" >p&lt;0.001</text>
<line x1="515.60" y1="32.40" x2="533.50" y2="32.40" stroke="#555" stroke-width="0.6" />
<text x="531.70" y="40.90" font-size="5.4" fill="#333" stroke="#333" stroke-width="0.1" textLength="18.70" lengthAdjust="spacingAndGlyphs" >p&lt;0.001</text>
<line x1="535.50" y1="43.90" x2="545.80" y2="43.90" stroke="#555" stroke-width="0.6" />
<text x="559.00" y="44.00" font-size="5.4" fill="#333" stroke="#333" stroke-width="0.1" textLength="19.50" lengthAdjust="spacingAndGlyphs" >p=0.080</text>
<line x1="559.00" y1="47.30" x2="578.00" y2="47.30" stroke="#555" stroke-width="0.6" />
<text x="575.00" y="54.90" font-size="5.4" fill="#333" stroke="#333" stroke-width="0.1" textLength="18.80" lengthAdjust="spacingAndGlyphs" >p=0.005</text>
<line x1="579.50" y1="58.80" x2="589.20" y2="58.80" stroke="#555" stroke-width="0.6" />
<text x="604.50" y="27.80" font-size="5.4" fill="#333" stroke="#333" stroke-width="0.1" textLength="17.90" lengthAdjust="spacingAndGlyphs" >p&lt;0.001</text>
<line x1="604.50" y1="31.20" x2="622.00" y2="31.20" stroke="#555" stroke-width="0.6" />
<text x="618.60" y="38.80" font-size="5.4" fill="#333" stroke="#333" stroke-width="0.1" textLength="18.60" lengthAdjust="spacingAndGlyphs" >p&lt;0.001</text>
<line x1="622.40" y1="42.20" x2="633.10" y2="42.20" stroke="#555" stroke-width="0.6" />
<rect x="646.20" y="64.60" width="3.60" height="3.60" fill="#000" stroke="none" stroke-width="0" />
<circle cx="648.00" cy="77.90" r="1.80" fill="#fff" stroke="#222" stroke-width="0.7" />
<circle cx="648.00" cy="88.80" r="2.00" fill="#f3533f" stroke="none" stroke-width="0" />
<circle cx="648.00" cy="100.10" r="2.00" fill="#4a4a4a" stroke="none" stroke-width="0" />
<text x="655.70" y="69.10" font-size="8.0" fill="#222" stroke="#222" stroke-width="0.1" textLength="23.00" lengthAdjust="spacingAndGlyphs" >0d+EV</text>
<text x="655.70" y="80.80" font-size="8.0" fill="#222" stroke="#222" stroke-width="0.1" textLength="28.30" lengthAdjust="spacingAndGlyphs" >0d+RH1</text>
<text x="655.70" y="91.70" font-size="8.0" fill="#222" stroke="#222" stroke-width="0.1" textLength="23.00" lengthAdjust="spacingAndGlyphs" >3d+EV</text>
<text x="655.70" y="103.00" font-size="8.0" fill="#222" stroke="#222" stroke-width="0.1" textLength="28.30" lengthAdjust="spacingAndGlyphs" >3d+RH1</text>
<text x="34.70" y="210.10" font-size="7.4" fill="#111" font-weight="bold" textLength="219.50" lengthAdjust="spacingAndGlyphs" >Predicted TRC-prone genes (length &gt;50kb, top 500 FPKM)</text>
<rect x="150.80" y="224.30" width="80.03" height="5.80" fill="#8fb9e1" stroke="none" stroke-width="0" />
<line x1="148.80" y1="227.20" x2="150.80" y2="227.20" stroke="#222" stroke-width="0.7" />
<text x="146.30" y="229.70" font-size="7.4" fill="#222" stroke="#222" stroke-width="0.1" text-anchor="end" >Mitotic spindle</text>
<rect x="150.80" y="232.82" width="47.95" height="5.80" fill="#8fb9e1" stroke="none" stroke-width="0" />
<line x1="148.80" y1="235.72" x2="150.80" y2="235.72" stroke="#222" stroke-width="0.7" />
<text x="146.30" y="238.22" font-size="7.4" fill="#222" stroke="#222" stroke-width="0.1" text-anchor="end" >Protein secretion</text>
<rect x="150.80" y="241.34" width="46.66" height="5.80" fill="#b193ca" stroke="none" stroke-width="0" />
<line x1="148.80" y1="244.24" x2="150.80" y2="244.24" stroke="#222" stroke-width="0.7" />
<text x="146.30" y="246.74" font-size="7.4" fill="#222" stroke="#222" stroke-width="0.1" text-anchor="end" >Epithelial mesenchymal transition</text>
<rect x="150.80" y="249.86" width="45.36" height="5.80" fill="#8fb9e1" stroke="none" stroke-width="0" />
<line x1="148.80" y1="252.76" x2="150.80" y2="252.76" stroke="#222" stroke-width="0.7" />
<text x="146.30" y="255.26" font-size="7.4" fill="#222" stroke="#222" stroke-width="0.1" text-anchor="end" >UV response - downregulated</text>
<rect x="150.80" y="258.38" width="36.94" height="5.80" fill="#8fb9e1" stroke="none" stroke-width="0" />
<line x1="148.80" y1="261.28" x2="150.80" y2="261.28" stroke="#222" stroke-width="0.7" />
<text x="146.30" y="263.78" font-size="7.4" fill="#222" stroke="#222" stroke-width="0.1" text-anchor="end" >MTORC1 signaling</text>
<rect x="150.80" y="266.90" width="33.70" height="5.80" fill="#8fb9e1" stroke="none" stroke-width="0" />
<line x1="148.80" y1="269.80" x2="150.80" y2="269.80" stroke="#222" stroke-width="0.7" />
<text x="146.30" y="272.30" font-size="7.4" fill="#222" stroke="#222" stroke-width="0.1" text-anchor="end" >E2F targets</text>
<rect x="150.80" y="275.42" width="30.46" height="5.80" fill="#8fb9e1" stroke="none" stroke-width="0" />
<line x1="148.80" y1="278.32" x2="150.80" y2="278.32" stroke="#222" stroke-width="0.7" />
<text x="146.30" y="280.82" font-size="7.4" fill="#222" stroke="#222" stroke-width="0.1" text-anchor="end" >G2M checkpoint</text>
<rect x="150.80" y="283.94" width="24.95" height="5.80" fill="#8fb9e1" stroke="none" stroke-width="0" />
<line x1="148.80" y1="286.84" x2="150.80" y2="286.84" stroke="#222" stroke-width="0.7" />
<text x="146.30" y="289.34" font-size="7.4" fill="#222" stroke="#222" stroke-width="0.1" text-anchor="end" >Hypoxia</text>
<rect x="150.80" y="292.46" width="22.03" height="5.80" fill="#8fb9e1" stroke="none" stroke-width="0" />
<line x1="148.80" y1="295.36" x2="150.80" y2="295.36" stroke="#222" stroke-width="0.7" />
<text x="146.30" y="297.86" font-size="7.4" fill="#222" stroke="#222" stroke-width="0.1" text-anchor="end" >Apical junction</text>
<rect x="150.80" y="300.98" width="22.03" height="5.80" fill="#8fb9e1" stroke="none" stroke-width="0" />
<line x1="148.80" y1="303.88" x2="150.80" y2="303.88" stroke="#222" stroke-width="0.7" />
<text x="146.30" y="306.38" font-size="7.4" fill="#222" stroke="#222" stroke-width="0.1" text-anchor="end" >Angiogenesis</text>
<line x1="150.80" y1="223.50" x2="150.80" y2="309.40" stroke="#222" stroke-width="0.9" />
<line x1="150.80" y1="309.40" x2="248.20" y2="309.40" stroke="#222" stroke-width="0.9" />
<line x1="150.80" y1="309.40" x2="150.80" y2="311.40" stroke="#222" stroke-width="0.8" />
<text x="150.80" y="319.90" font-size="7" fill="#222" stroke="#222" stroke-width="0.1" text-anchor="middle" >0</text>
<line x1="183.20" y1="309.40" x2="183.20" y2="311.40" stroke="#222" stroke-width="0.8" />
<text x="183.20" y="319.90" font-size="7" fill="#222" stroke="#222" stroke-width="0.1" text-anchor="middle" >10</text>
<line x1="215.60" y1="309.40" x2="215.60" y2="311.40" stroke="#222" stroke-width="0.8" />
<text x="215.60" y="319.90" font-size="7" fill="#222" stroke="#222" stroke-width="0.1" text-anchor="middle" >20</text>
<line x1="248.00" y1="309.40" x2="248.00" y2="311.40" stroke="#222" stroke-width="0.8" />
<text x="248.00" y="319.90" font-size="7" fill="#222" stroke="#222" stroke-width="0.1" text-anchor="middle" >30</text>
<text x="174.30" y="332.10" font-size="7.4" fill="#222" textLength="47.20" lengthAdjust="spacingAndGlyphs" xml:space="preserve">-log<tspan font-size="4.81" dy="1.8">10</tspan><tspan dy="-1.8">(p-value)</tspan></text>
<text x="26.80" y="269.50" font-size="7.0" fill="#222" stroke="#222" stroke-width="0.1" text-anchor="middle" transform="rotate(-90 26.80 269.50)" >Hallmark Gene Enrichment</text>
<text x="368.50" y="207.30" font-size="7.2" fill="#111" font-weight="bold" textLength="221.80" lengthAdjust="spacingAndGlyphs" >Actual genes with new origins at TTSs in BRCA2-KD FTEs</text>
<rect x="492.00" y="218.60" width="66.98" height="5.20" fill="#8fb9e1" stroke="none" stroke-width="0" />
<line x1="490.00" y1="221.20" x2="492.00" y2="221.20" stroke="#222" stroke-width="0.7" />
<text x="489.00" y="223.70" font-size="6.9" fill="#222" stroke="#222" stroke-width="0.1" text-anchor="end" >UV response - downregulated</text>
<rect x="492.00" y="226.60" width="53.19" height="5.20" fill="#b193ca" stroke="none" stroke-width="0" />
<line x1="490.00" y1="229.20" x2="492.00" y2="229.20" stroke="#222" stroke-width="0.7" />
<text x="489.00" y="231.70" font-size="6.9" fill="#222" stroke="#222" stroke-width="0.1" text-anchor="end" >Epithelial mesenchymal transition</text>
<rect x="492.00" y="234.60" width="45.80" height="5.20" fill="#8fb9e1" stroke="none" stroke-width="0" />
<line x1="490.00" y1="237.20" x2="492.00" y2="237.20" stroke="#222" stroke-width="0.7" />
<text x="489.00" y="239.70" font-size="6.9" fill="#222" stroke="#222" stroke-width="0.1" text-anchor="end" >UV response - upregulated</text>
<rect x="492.00" y="242.60" width="45.31" height="5.20" fill="#8fb9e1" stroke="none" stroke-width="0" />
<line x1="490.00" y1="245.20" x2="492.00" y2="245.20" stroke="#222" stroke-width="0.7" />
<text x="489.00" y="247.70" font-size="6.9" fill="#222" stroke="#222" stroke-width="0.1" text-anchor="end" >MTORC1 signaling</text>
<rect x="492.00" y="250.60" width="31.03" height="5.20" fill="#8fb9e1" stroke="none" stroke-width="0" />
<line x1="490.00" y1="253.20" x2="492.00" y2="253.20" stroke="#222" stroke-width="0.7" />
<text x="489.00" y="255.70" font-size="6.9" fill="#222" stroke="#222" stroke-width="0.1" text-anchor="end" >Estrogen response - early</text>
<rect x="492.00" y="258.60" width="30.54" height="5.20" fill="#8fb9e1" stroke="none" stroke-width="0" />
<line x1="490.00" y1="261.20" x2="492.00" y2="261.20" stroke="#222" stroke-width="0.7" />
<text x="489.00" y="263.70" font-size="6.9" fill="#222" stroke="#222" stroke-width="0.1" text-anchor="end" >Estrogen response - late</text>
<rect x="492.00" y="266.60" width="33.00" height="5.20" fill="#8fb9e1" stroke="none" stroke-width="0" />
<line x1="490.00" y1="269.20" x2="492.00" y2="269.20" stroke="#222" stroke-width="0.7" />
<text x="489.00" y="271.70" font-size="6.9" fill="#222" stroke="#222" stroke-width="0.1" text-anchor="end" >Angiogenesis</text>
<rect x="492.00" y="274.60" width="30.54" height="5.20" fill="#8fb9e1" stroke="none" stroke-width="0" />
<line x1="490.00" y1="277.20" x2="492.00" y2="277.20" stroke="#222" stroke-width="0.7" />
<text x="489.00" y="279.70" font-size="6.9" fill="#222" stroke="#222" stroke-width="0.1" text-anchor="end" >TNFA signaling via NFKB</text>
<rect x="492.00" y="282.60" width="24.62" height="5.20" fill="#8fb9e1" stroke="none" stroke-width="0" />
<line x1="490.00" y1="285.20" x2="492.00" y2="285.20" stroke="#222" stroke-width="0.7" />
<text x="489.00" y="287.70" font-size="6.9" fill="#222" stroke="#222" stroke-width="0.1" text-anchor="end" >Glycolysis</text>
<rect x="492.00" y="290.60" width="24.62" height="5.20" fill="#8fb9e1" stroke="none" stroke-width="0" />
<line x1="490.00" y1="293.20" x2="492.00" y2="293.20" stroke="#222" stroke-width="0.7" />
<text x="489.00" y="295.70" font-size="6.9" fill="#222" stroke="#222" stroke-width="0.1" text-anchor="end" >Hypoxia</text>
<rect x="492.00" y="298.60" width="24.62" height="5.20" fill="#8fb9e1" stroke="none" stroke-width="0" />
<line x1="490.00" y1="301.20" x2="492.00" y2="301.20" stroke="#222" stroke-width="0.7" />
<text x="489.00" y="303.70" font-size="6.9" fill="#222" stroke="#222" stroke-width="0.1" text-anchor="end" >Oxidative phosphorylation</text>
<line x1="492.00" y1="216.50" x2="492.00" y2="306.10" stroke="#222" stroke-width="0.9" />
<line x1="492.00" y1="306.10" x2="571.60" y2="306.10" stroke="#222" stroke-width="0.9" />
<line x1="492.00" y1="306.10" x2="492.00" y2="308.10" stroke="#222" stroke-width="0.8" />
<text x="492.00" y="315.30" font-size="7" fill="#222" stroke="#222" stroke-width="0.1" text-anchor="middle" >0</text>
<line x1="511.70" y1="306.10" x2="511.70" y2="308.10" stroke="#222" stroke-width="0.8" />
<text x="511.70" y="315.30" font-size="7" fill="#222" stroke="#222" stroke-width="0.1" text-anchor="middle" >2</text>
<line x1="531.40" y1="306.10" x2="531.40" y2="308.10" stroke="#222" stroke-width="0.8" />
<text x="531.40" y="315.30" font-size="7" fill="#222" stroke="#222" stroke-width="0.1" text-anchor="middle" >4</text>
<line x1="551.10" y1="306.10" x2="551.10" y2="308.10" stroke="#222" stroke-width="0.8" />
<text x="551.10" y="315.30" font-size="7" fill="#222" stroke="#222" stroke-width="0.1" text-anchor="middle" >6</text>
<line x1="570.80" y1="306.10" x2="570.80" y2="308.10" stroke="#222" stroke-width="0.8" />
<text x="570.80" y="315.30" font-size="7" fill="#222" stroke="#222" stroke-width="0.1" text-anchor="middle" >8</text>
<text x="507.40" y="324.00" font-size="7.3" fill="#222" textLength="48.80" lengthAdjust="spacingAndGlyphs" xml:space="preserve">-log<tspan font-size="4.75" dy="1.8">10</tspan><tspan dy="-1.8">(p-value)</tspan></text>
<text x="383.20" y="260.50" font-size="7.6" fill="#222" stroke="#222" stroke-width="0.1" text-anchor="middle" transform="rotate(-90 383.20 260.50)" >Hallmark Gene Enrichment</text>
<text x="62.00" y="375.30" font-size="7.6" fill="#111" font-weight="bold" textLength="161.40" lengthAdjust="spacingAndGlyphs" >Genes with somatic mutations enriched in</text>
<text x="58.40" y="385.50" font-size="7.6" fill="#111" font-weight="bold" textLength="170.80" lengthAdjust="spacingAndGlyphs" >mutBRCA2 OVCA samples (TCGA, Firehose)</text>
<rect x="147.80" y="399.90" width="73.69" height="6.20" fill="#8fb9e1" stroke="none" stroke-width="0" />
<line x1="145.80" y1="403.00" x2="147.80" y2="403.00" stroke="#222" stroke-width="0.7" />
<text x="145.00" y="405.50" font-size="6.95" fill="#222" stroke="#222" stroke-width="0.1" text-anchor="end" >UV response - downregulated</text>
<rect x="147.80" y="409.10" width="70.30" height="6.20" fill="#8fb9e1" stroke="none" stroke-width="0" />
<line x1="145.80" y1="412.20" x2="147.80" y2="412.20" stroke="#222" stroke-width="0.7" />
<text x="145.00" y="414.70" font-size="6.95" fill="#222" stroke="#222" stroke-width="0.1" text-anchor="end" >Mitotic spindle</text>
<rect x="147.80" y="418.30" width="70.30" height="6.20" fill="#8fb9e1" stroke="none" stroke-width="0" />
<line x1="145.80" y1="421.40" x2="147.80" y2="421.40" stroke="#222" stroke-width="0.7" />
<text x="145.00" y="423.90" font-size="6.95" fill="#222" stroke="#222" stroke-width="0.1" text-anchor="end" >Interferon gamma response</text>
<rect x="147.80" y="427.50" width="54.21" height="6.20" fill="#8fb9e1" stroke="none" stroke-width="0" />
<line x1="145.80" y1="430.60" x2="147.80" y2="430.60" stroke="#222" stroke-width="0.7" />
<text x="145.00" y="433.10" font-size="6.95" fill="#222" stroke="#222" stroke-width="0.1" text-anchor="end" >Apoptosis</text>
<rect x="147.80" y="436.70" width="46.59" height="6.20" fill="#8fb9e1" stroke="none" stroke-width="0" />
<line x1="145.80" y1="439.80" x2="147.80" y2="439.80" stroke="#222" stroke-width="0.7" />
<text x="145.00" y="442.30" font-size="6.95" fill="#222" stroke="#222" stroke-width="0.1" text-anchor="end" >Interferon alpha response</text>
<rect x="147.80" y="445.90" width="46.59" height="6.20" fill="#8fb9e1" stroke="none" stroke-width="0" />
<line x1="145.80" y1="449.00" x2="147.80" y2="449.00" stroke="#222" stroke-width="0.7" />
<text x="145.00" y="451.50" font-size="6.95" fill="#222" stroke="#222" stroke-width="0.1" text-anchor="end" >IL2 STAT5 signaling</text>
<rect x="147.80" y="455.10" width="45.40" height="6.20" fill="#b193ca" stroke="none" stroke-width="0" />
<line x1="145.80" y1="458.20" x2="147.80" y2="458.20" stroke="#222" stroke-width="0.7" />
<text x="145.00" y="460.70" font-size="6.95" fill="#222" stroke="#222" stroke-width="0.1" text-anchor="end" >Epithelial mesenchymal transition</text>
<rect x="147.80" y="464.30" width="35.57" height="6.20" fill="#8fb9e1" stroke="none" stroke-width="0" />
<line x1="145.80" y1="467.40" x2="147.80" y2="467.40" stroke="#222" stroke-width="0.7" />
<text x="145.00" y="469.90" font-size="6.95" fill="#222" stroke="#222" stroke-width="0.1" text-anchor="end" >Coagulation</text>
<rect x="147.80" y="473.50" width="35.57" height="6.20" fill="#8fb9e1" stroke="none" stroke-width="0" />
<line x1="145.80" y1="476.60" x2="147.80" y2="476.60" stroke="#222" stroke-width="0.7" />
<text x="145.00" y="479.10" font-size="6.95" fill="#222" stroke="#222" stroke-width="0.1" text-anchor="end" >Estrogen response - early</text>
<line x1="147.80" y1="397.50" x2="147.80" y2="481.70" stroke="#222" stroke-width="0.9" />
<line x1="147.80" y1="481.70" x2="232.60" y2="481.70" stroke="#222" stroke-width="0.9" />
<line x1="147.80" y1="481.70" x2="147.80" y2="483.70" stroke="#222" stroke-width="0.8" />
<text x="147.80" y="491.50" font-size="7" fill="#222" stroke="#222" stroke-width="0.1" text-anchor="middle" >0</text>
<line x1="164.74" y1="481.70" x2="164.74" y2="483.70" stroke="#222" stroke-width="0.8" />
<text x="164.74" y="491.50" font-size="7" fill="#222" stroke="#222" stroke-width="0.1" text-anchor="middle" >1</text>
<line x1="181.68" y1="481.70" x2="181.68" y2="483.70" stroke="#222" stroke-width="0.8" />
<text x="181.68" y="491.50" font-size="7" fill="#222" stroke="#222" stroke-width="0.1" text-anchor="middle" >2</text>
<line x1="198.62" y1="481.70" x2="198.62" y2="483.70" stroke="#222" stroke-width="0.8" />
<text x="198.62" y="491.50" font-size="7" fill="#222" stroke="#222" stroke-width="0.1" text-anchor="middle" >3</text>
<line x1="215.56" y1="481.70" x2="215.56" y2="483.70" stroke="#222" stroke-width="0.8" />
<text x="215.56" y="491.50" font-size="7" fill="#222" stroke="#222" stroke-width="0.1" text-anchor="middle" >4</text>
<line x1="232.50" y1="481.70" x2="232.50" y2="483.70" stroke="#222" stroke-width="0.8" />
<text x="232.50" y="491.50" font-size="7" fill="#222" stroke="#222" stroke-width="0.1" text-anchor="middle" >5</text>
<text x="165.30" y="502.90" font-size="7.6" fill="#222" textLength="47.50" lengthAdjust="spacingAndGlyphs" xml:space="preserve">-log <tspan font-size="4.94" dy="1.8">10</tspan><tspan dy="-1.8"> (p-value)</tspan></text>
<text x="27.40" y="437.50" font-size="7.8" fill="#222" stroke="#222" stroke-width="0.1" text-anchor="middle" transform="rotate(-90 27.40 437.50)" >Hallmark Gene Enrichment</text>
<line x1="326.40" y1="387.00" x2="326.40" y2="472.40" stroke="#333" stroke-width="0.8" />
<line x1="326.40" y1="472.40" x2="360.30" y2="472.40" stroke="#333" stroke-width="0.8" />
<line x1="343.50" y1="472.40" x2="343.50" y2="474.20" stroke="#333" stroke-width="0.7" />
<line x1="324.80" y1="472.40" x2="326.40" y2="472.40" stroke="#333" stroke-width="0.7" />
<text x="323.80" y="474.90" font-size="7" fill="#333" stroke="#333" stroke-width="0.1" text-anchor="end" >0</text>
<line x1="324.80" y1="451.15" x2="326.40" y2="451.15" stroke="#333" stroke-width="0.7" />
<text x="323.80" y="453.65" font-size="7" fill="#333" stroke="#333" stroke-width="0.1" text-anchor="end" >2</text>
<line x1="324.80" y1="429.90" x2="326.40" y2="429.90" stroke="#333" stroke-width="0.7" />
<text x="323.80" y="432.40" font-size="7" fill="#333" stroke="#333" stroke-width="0.1" text-anchor="end" >4</text>
<line x1="324.80" y1="408.65" x2="326.40" y2="408.65" stroke="#333" stroke-width="0.7" />
<text x="323.80" y="411.15" font-size="7" fill="#333" stroke="#333" stroke-width="0.1" text-anchor="end" >6</text>
<line x1="324.80" y1="387.40" x2="326.40" y2="387.40" stroke="#333" stroke-width="0.7" />
<text x="323.80" y="389.90" font-size="7" fill="#333" stroke="#333" stroke-width="0.1" text-anchor="end" >8</text>
<text x="313.80" y="427.50" font-size="8" fill="#222" stroke="#222" stroke-width="0.1" text-anchor="middle" transform="rotate(-90 313.80 427.50)" >Normalized gene length</text>
<g fill="none" stroke="#333" stroke-width="0.45"><circle cx="343.6" cy="445.3" r="0.75"/><circle cx="342.0" cy="440.5" r="0.75"/><circle cx="343.7" cy="440.5" r="0.75"/><circle cx="345.0" cy="440.0" r="0.75"/><circle cx="343.6" cy="436.3" r="0.75"/><circle cx="342.6" cy="435.7" r="0.75"/><circle cx="344.3" cy="435.2" r="0.75"/><circle cx="343.5" cy="433.6" r="0.75"/><circle cx="340.1" cy="432.8" r="0.75"/><circle cx="341.6" cy="433.4" r="0.75"/><circle cx="342.5" cy="432.3" r="0.75"/><circle cx="343.4" cy="432.6" r="0.75"/><circle cx="344.6" cy="433.3" r="0.75"/><circle cx="345.7" cy="433.2" r="0.75"/><circle cx="346.6" cy="432.3" r="0.75"/><circle cx="341.9" cy="431.7" r="0.75"/><circle cx="343.2" cy="431.1" r="0.75"/><circle cx="344.0" cy="431.5" r="0.75"/><circle cx="345.1" cy="431.4" r="0.75"/><circle cx="340.5" cy="430.0" r="0.75"/><circle cx="341.7" cy="429.8" r="0.75"/><circle cx="342.2" cy="429.8" r="0.75"/><circle cx="343.6" cy="430.5" r="0.75"/><circle cx="344.7" cy="430.7" r="0.75"/><circle cx="345.9" cy="430.5" r="0.75"/><circle cx="346.4" cy="429.8" r="0.75"/><circle cx="337.4" cy="428.6" r="0.75"/><circle cx="338.9" cy="428.9" r="0.75"/><circle cx="339.4" cy="428.5" r="0.75"/><circle cx="340.4" cy="429.2" r="0.75"/><circle cx="341.6" cy="429.2" r="0.75"/><circle cx="342.5" cy="429.2" r="0.75"/><circle cx="343.7" cy="428.7" r="0.75"/><circle cx="344.3" cy="429.6" r="0.75"/><circle cx="345.7" cy="428.6" r="0.75"/><circle cx="346.3" cy="428.6" r="0.75"/><circle cx="347.6" cy="428.6" r="0.75"/><circle cx="348.1" cy="428.7" r="0.75"/><circle cx="349.3" cy="428.8" r="0.75"/><circle cx="335.2" cy="427.9" r="0.75"/><circle cx="336.3" cy="427.2" r="0.75"/><circle cx="337.3" cy="428.0" r="0.75"/><circle cx="338.5" cy="428.1" r="0.75"/><circle cx="339.2" cy="428.1" r="0.75"/><circle cx="339.9" cy="428.2" r="0.75"/><circle cx="341.4" cy="427.2" r="0.75"/><circle cx="342.3" cy="427.4" r="0.75"/><circle cx="343.3" cy="428.1" r="0.75"/><circle cx="343.8" cy="427.4" r="0.75"/><circle cx="344.8" cy="427.4" r="0.75"/><circle cx="345.7" cy="427.3" r="0.75"/><circle cx="346.6" cy="427.7" r="0.75"/><circle cx="347.5" cy="427.2" r="0.75"/><circle cx="348.7" cy="427.8" r="0.75"/><circle cx="349.4" cy="427.3" r="0.75"/><circle cx="350.4" cy="427.2" r="0.75"/><circle cx="351.7" cy="427.3" r="0.75"/><circle cx="335.5" cy="426.6" r="0.75"/><circle cx="336.0" cy="426.1" r="0.75"/><circle cx="337.1" cy="426.7" r="0.75"/><circle cx="337.5" cy="426.2" r="0.75"/><circle cx="338.4" cy="427.0" r="0.75"/><circle cx="339.0" cy="425.9" r="0.75"/><circle cx="339.9" cy="426.3" r="0.75"/><circle cx="340.7" cy="426.8" r="0.75"/><circle cx="341.3" cy="426.3" r="0.75"/><circle cx="342.0" cy="426.6" r="0.75"/><circle cx="342.9" cy="427.1" r="0.75"/><circle cx="343.7" cy="426.2" r="0.75"/><circle cx="344.0" cy="427.0" r="0.75"/><circle cx="344.7" cy="426.8" r="0.75"/><circle cx="345.4" cy="426.1" r="0.75"/><circle cx="346.7" cy="426.2" r="0.75"/><circle cx="347.4" cy="427.1" r="0.75"/><circle cx="347.7" cy="426.8" r="0.75"/><circle cx="348.9" cy="426.1" r="0.75"/><circle cx="349.1" cy="426.8" r="0.75"/><circle cx="350.0" cy="426.2" r="0.75"/><circle cx="350.8" cy="425.9" r="0.75"/><circle cx="351.7" cy="425.9" r="0.75"/><circle cx="335.2" cy="425.5" r="0.75"/><circle cx="335.9" cy="425.4" r="0.75"/><circle cx="336.7" cy="425.8" r="0.75"/><circle cx="336.9" cy="424.7" r="0.75"/><circle cx="337.5" cy="424.8" r="0.75"/><circle cx="338.2" cy="425.2" r="0.75"/><circle cx="339.0" cy="425.5" r="0.75"/><circle cx="339.5" cy="424.6" r="0.75"/><circle cx="340.1" cy="425.2" r="0.75"/><circle cx="340.6" cy="424.7" r="0.75"/><circle cx="341.1" cy="425.0" r="0.75"/><circle cx="341.8" cy="424.8" r="0.75"/><circle cx="342.2" cy="424.7" r="0.75"/><circle cx="342.8" cy="424.9" r="0.75"/><circle cx="343.1" cy="425.0" r="0.75"/><circle cx="343.6" cy="425.9" r="0.75"/><circle cx="344.5" cy="425.1" r="0.75"/><circle cx="344.7" cy="425.4" r="0.75"/><circle cx="345.7" cy="425.3" r="0.75"/><circle cx="346.0" cy="425.0" r="0.75"/><circle cx="346.4" cy="425.3" r="0.75"/><circle cx="347.3" cy="425.3" r="0.75"/><circle cx="347.4" cy="425.1" r="0.75"/><circle cx="348.2" cy="424.6" r="0.75"/><circle cx="348.5" cy="424.7" r="0.75"/><circle cx="349.6" cy="425.1" r="0.75"/><circle cx="349.9" cy="425.5" r="0.75"/><circle cx="350.6" cy="425.4" r="0.75"/><circle cx="350.8" cy="424.6" r="0.75"/><circle cx="351.7" cy="424.7" r="0.75"/><circle cx="335.6" cy="423.8" r="0.75"/><circle cx="336.0" cy="424.0" r="0.75"/><circle cx="336.6" cy="423.5" r="0.75"/><circle cx="336.7" cy="423.4" r="0.75"/><circle cx="337.1" cy="423.8" r="0.75"/><circle cx="337.7" cy="423.4" r="0.75"/><circle cx="338.2" cy="423.5" r="0.75"/><circle cx="338.3" cy="423.4" r="0.75"/><circle cx="339.0" cy="423.5" r="0.75"/><circle cx="339.1" cy="424.5" r="0.75"/><circle cx="339.7" cy="424.6" r="0.75"/><circle cx="340.3" cy="424.0" r="0.75"/><circle cx="340.3" cy="424.4" r="0.75"/><circle cx="341.1" cy="424.3" r="0.75"/><circle cx="341.1" cy="423.8" r="0.75"/><circle cx="342.1" cy="424.1" r="0.75"/><circle cx="342.2" cy="423.3" r="0.75"/><circle cx="342.6" cy="423.4" r="0.75"/><circle cx="343.2" cy="424.2" r="0.75"/><circle cx="343.5" cy="423.4" r="0.75"/><circle cx="344.1" cy="424.0" r="0.75"/><circle cx="344.1" cy="423.4" r="0.75"/><circle cx="344.8" cy="423.4" r="0.75"/><circle cx="345.2" cy="424.1" r="0.75"/><circle cx="345.9" cy="424.3" r="0.75"/><circle cx="345.8" cy="424.1" r="0.75"/><circle cx="346.4" cy="423.4" r="0.75"/><circle cx="346.9" cy="424.4" r="0.75"/><circle cx="347.3" cy="423.7" r="0.75"/><circle cx="347.5" cy="423.8" r="0.75"/><circle cx="348.2" cy="424.3" r="0.75"/><circle cx="348.4" cy="423.3" r="0.75"/><circle cx="348.8" cy="424.6" r="0.75"/><circle cx="349.6" cy="423.9" r="0.75"/><circle cx="349.6" cy="424.6" r="0.75"/><circle cx="350.2" cy="423.9" r="0.75"/><circle cx="350.8" cy="424.1" r="0.75"/><circle cx="351.2" cy="423.4" r="0.75"/><circle cx="351.5" cy="424.4" r="0.75"/><circle cx="335.7" cy="422.4" r="0.75"/><circle cx="335.8" cy="423.1" r="0.75"/><circle cx="336.3" cy="422.5" r="0.75"/><circle cx="336.8" cy="422.5" r="0.75"/><circle cx="337.0" cy="422.4" r="0.75"/><circle cx="337.4" cy="422.3" r="0.75"/><circle cx="337.6" cy="423.2" r="0.75"/><circle cx="338.0" cy="422.7" r="0.75"/><circle cx="338.3" cy="422.8" r="0.75"/><circle cx="338.8" cy="422.6" r="0.75"/><circle cx="339.0" cy="422.3" r="0.75"/><circle cx="339.4" cy="423.0" r="0.75"/><circle cx="339.9" cy="423.1" r="0.75"/><circle cx="340.1" cy="422.3" r="0.75"/><circle cx="340.4" cy="423.0" r="0.75"/><circle cx="341.0" cy="423.1" r="0.75"/><circle cx="341.1" cy="422.1" r="0.75"/><circle cx="341.8" cy="422.8" r="0.75"/><circle cx="342.1" cy="422.4" r="0.75"/><circle cx="342.2" cy="422.9" r="0.75"/><circle cx="342.7" cy="422.9" r="0.75"/><circle cx="342.7" cy="422.4" r="0.75"/><circle cx="343.3" cy="422.6" r="0.75"/><circle cx="343.9" cy="422.7" r="0.75"/><circle cx="344.1" cy="422.1" r="0.75"/><circle cx="344.4" cy="422.4" r="0.75"/><circle cx="344.8" cy="422.3" r="0.75"/><circle cx="345.2" cy="423.0" r="0.75"/><circle cx="345.5" cy="422.8" r="0.75"/><circle cx="345.8" cy="423.2" r="0.75"/><circle cx="346.0" cy="422.1" r="0.75"/><circle cx="346.4" cy="422.6" r="0.75"/><circle cx="346.8" cy="422.9" r="0.75"/><circle cx="347.2" cy="422.4" r="0.75"/><circle cx="347.9" cy="422.9" r="0.75"/><circle cx="347.9" cy="422.3" r="0.75"/><circle cx="348.3" cy="422.6" r="0.75"/><circle cx="348.6" cy="422.4" r="0.75"/><circle cx="349.1" cy="422.2" r="0.75"/><circle cx="349.6" cy="423.0" r="0.75"/><circle cx="350.0" cy="422.1" r="0.75"/><circle cx="350.0" cy="423.2" r="0.75"/><circle cx="350.3" cy="422.9" r="0.75"/><circle cx="351.0" cy="422.5" r="0.75"/><circle cx="351.1" cy="423.2" r="0.75"/><circle cx="351.6" cy="422.2" r="0.75"/><circle cx="335.2" cy="421.7" r="0.75"/><circle cx="336.4" cy="421.0" r="0.75"/><circle cx="336.8" cy="421.9" r="0.75"/><circle cx="337.7" cy="421.9" r="0.75"/><circle cx="338.2" cy="422.0" r="0.75"/><circle cx="339.1" cy="420.9" r="0.75"/><circle cx="340.1" cy="421.8" r="0.75"/><circle cx="340.8" cy="420.8" r="0.75"/><circle cx="341.3" cy="421.2" r="0.75"/><circle cx="342.2" cy="421.0" r="0.75"/><circle cx="342.7" cy="421.9" r="0.75"/><circle cx="343.4" cy="421.3" r="0.75"/><circle cx="344.3" cy="421.2" r="0.75"/><circle cx="344.8" cy="421.8" r="0.75"/><circle cx="345.6" cy="422.0" r="0.75"/><circle cx="346.5" cy="421.3" r="0.75"/><circle cx="347.3" cy="422.0" r="0.75"/><circle cx="347.6" cy="420.8" r="0.75"/><circle cx="348.7" cy="421.4" r="0.75"/><circle cx="349.5" cy="421.2" r="0.75"/><circle cx="350.0" cy="421.9" r="0.75"/><circle cx="350.5" cy="420.9" r="0.75"/><circle cx="351.6" cy="421.3" r="0.75"/><circle cx="335.3" cy="420.5" r="0.75"/><circle cx="336.2" cy="419.6" r="0.75"/><circle cx="336.7" cy="420.1" r="0.75"/><circle cx="337.5" cy="420.2" r="0.75"/><circle cx="337.9" cy="419.7" r="0.75"/><circle cx="338.7" cy="420.6" r="0.75"/><circle cx="339.4" cy="419.8" r="0.75"/><circle cx="340.1" cy="419.7" r="0.75"/><circle cx="340.4" cy="420.2" r="0.75"/><circle cx="341.5" cy="419.9" r="0.75"/><circle cx="341.8" cy="420.7" r="0.75"/><circle cx="342.4" cy="419.7" r="0.75"/><circle cx="343.0" cy="420.0" r="0.75"/><circle cx="343.6" cy="419.8" r="0.75"/><circle cx="344.4" cy="420.0" r="0.75"/><circle cx="345.3" cy="420.1" r="0.75"/><circle cx="345.9" cy="420.1" r="0.75"/><circle cx="346.2" cy="420.6" r="0.75"/><circle cx="346.8" cy="419.5" r="0.75"/><circle cx="347.6" cy="420.0" r="0.75"/><circle cx="348.5" cy="420.7" r="0.75"/><circle cx="348.9" cy="420.4" r="0.75"/><circle cx="349.8" cy="419.5" r="0.75"/><circle cx="350.3" cy="420.8" r="0.75"/><circle cx="350.9" cy="420.0" r="0.75"/><circle cx="351.7" cy="420.4" r="0.75"/><circle cx="337.4" cy="418.3" r="0.75"/><circle cx="338.1" cy="419.4" r="0.75"/><circle cx="339.0" cy="419.0" r="0.75"/><circle cx="340.1" cy="418.3" r="0.75"/><circle cx="341.1" cy="418.3" r="0.75"/><circle cx="341.8" cy="419.0" r="0.75"/><circle cx="343.0" cy="418.3" r="0.75"/><circle cx="344.1" cy="419.2" r="0.75"/><circle cx="344.7" cy="418.8" r="0.75"/><circle cx="345.7" cy="418.6" r="0.75"/><circle cx="346.7" cy="418.5" r="0.75"/><circle cx="347.7" cy="419.4" r="0.75"/><circle cx="349.1" cy="419.3" r="0.75"/><circle cx="349.5" cy="419.1" r="0.75"/><circle cx="337.0" cy="417.5" r="0.75"/><circle cx="338.0" cy="418.1" r="0.75"/><circle cx="339.1" cy="417.2" r="0.75"/><circle cx="339.8" cy="417.9" r="0.75"/><circle cx="341.1" cy="418.2" r="0.75"/><circle cx="341.8" cy="417.0" r="0.75"/><circle cx="342.9" cy="417.5" r="0.75"/><circle cx="344.2" cy="418.1" r="0.75"/><circle cx="344.8" cy="418.1" r="0.75"/><circle cx="346.0" cy="418.0" r="0.75"/><circle cx="346.8" cy="417.6" r="0.75"/><circle cx="347.8" cy="417.1" r="0.75"/><circle cx="349.0" cy="417.9" r="0.75"/><circle cx="349.6" cy="417.5" r="0.75"/><circle cx="340.6" cy="416.6" r="0.75"/><circle cx="341.6" cy="416.1" r="0.75"/><circle cx="342.6" cy="415.8" r="0.75"/><circle cx="343.2" cy="416.4" r="0.75"/><circle cx="344.6" cy="416.7" r="0.75"/><circle cx="345.7" cy="416.8" r="0.75"/><circle cx="346.8" cy="416.7" r="0.75"/><circle cx="340.2" cy="415.1" r="0.75"/><circle cx="341.7" cy="414.9" r="0.75"/><circle cx="342.7" cy="414.6" r="0.75"/><circle cx="343.3" cy="414.6" r="0.75"/><circle cx="344.4" cy="415.5" r="0.75"/><circle cx="345.3" cy="415.1" r="0.75"/><circle cx="346.8" cy="415.5" r="0.75"/><circle cx="342.8" cy="413.7" r="0.75"/><circle cx="344.7" cy="413.9" r="0.75"/><circle cx="342.2" cy="413.0" r="0.75"/><circle cx="343.6" cy="413.1" r="0.75"/><circle cx="345.0" cy="412.6" r="0.75"/><circle cx="342.6" cy="411.4" r="0.75"/><circle cx="344.7" cy="411.1" r="0.75"/><circle cx="342.7" cy="408.9" r="0.75"/><circle cx="344.3" cy="408.6" r="0.75"/><circle cx="343.5" cy="407.1" r="0.75"/><circle cx="342.3" cy="406.5" r="0.75"/><circle cx="344.5" cy="406.5" r="0.75"/></g>
<line x1="335.20" y1="423.84" x2="351.50" y2="423.84" stroke="#d8352a" stroke-width="1.2" />
<line x1="326.40" y1="427.20" x2="360.00" y2="427.20" stroke="#333" stroke-width="0.7" stroke-dasharray="1.2,1"/>
<line x1="400.20" y1="388.50" x2="400.20" y2="474.60" stroke="#333" stroke-width="0.8" />
<line x1="400.20" y1="474.60" x2="434.20" y2="474.60" stroke="#333" stroke-width="0.8" />
<line x1="417.40" y1="474.60" x2="417.40" y2="476.40" stroke="#333" stroke-width="0.7" />
<line x1="398.60" y1="464.70" x2="400.20" y2="464.70" stroke="#333" stroke-width="0.7" />
<text x="397.60" y="467.20" font-size="7" fill="#333" stroke="#333" stroke-width="0.1" text-anchor="end" >0</text>
<line x1="398.60" y1="439.40" x2="400.20" y2="439.40" stroke="#333" stroke-width="0.7" />
<text x="397.60" y="441.90" font-size="7" fill="#333" stroke="#333" stroke-width="0.1" text-anchor="end" >5</text>
<line x1="398.60" y1="414.10" x2="400.20" y2="414.10" stroke="#333" stroke-width="0.7" />
<text x="397.60" y="416.60" font-size="7" fill="#333" stroke="#333" stroke-width="0.1" text-anchor="end" >10</text>
<line x1="398.60" y1="388.80" x2="400.20" y2="388.80" stroke="#333" stroke-width="0.7" />
<text x="397.60" y="391.30" font-size="7" fill="#333" stroke="#333" stroke-width="0.1" text-anchor="end" >15</text>
<text x="387.00" y="426.40" font-size="8" fill="#222" stroke="#222" stroke-width="0.1" text-anchor="middle" transform="rotate(-90 387.00 426.40)" >Normalized gene expression</text>
<g fill="none" stroke="#444" stroke-width="0.45"><circle cx="412.9" cy="430.3" r="0.8"/><circle cx="413.7" cy="430.3" r="0.8"/><circle cx="414.9" cy="430.3" r="0.8"/><circle cx="415.8" cy="430.3" r="0.8"/><circle cx="416.7" cy="430.1" r="0.8"/><circle cx="417.7" cy="430.3" r="0.8"/><circle cx="419.1" cy="430.3" r="0.8"/><circle cx="420.2" cy="430.3" r="0.8"/><circle cx="420.7" cy="430.3" r="0.8"/><circle cx="421.6" cy="430.3" r="0.8"/><circle cx="413.2" cy="429.1" r="0.8"/><circle cx="414.1" cy="429.5" r="0.8"/><circle cx="415.2" cy="429.2" r="0.8"/><circle cx="416.4" cy="428.8" r="0.8"/><circle cx="417.4" cy="429.4" r="0.8"/><circle cx="418.4" cy="429.4" r="0.8"/><circle cx="419.2" cy="428.7" r="0.8"/><circle cx="420.5" cy="429.5" r="0.8"/><circle cx="421.3" cy="429.9" r="0.8"/><circle cx="413.3" cy="428.3" r="0.8"/><circle cx="414.3" cy="428.4" r="0.8"/><circle cx="415.6" cy="427.9" r="0.8"/><circle cx="416.2" cy="428.3" r="0.8"/><circle cx="417.5" cy="428.3" r="0.8"/><circle cx="418.3" cy="428.5" r="0.8"/><circle cx="419.7" cy="428.0" r="0.8"/><circle cx="420.4" cy="427.4" r="0.8"/><circle cx="421.5" cy="427.9" r="0.8"/><circle cx="414.9" cy="426.5" r="0.8"/><circle cx="415.9" cy="425.7" r="0.8"/><circle cx="416.6" cy="425.9" r="0.8"/><circle cx="417.7" cy="426.6" r="0.8"/><circle cx="419.3" cy="426.5" r="0.8"/><circle cx="419.8" cy="426.1" r="0.8"/><circle cx="409.6" cy="425.2" r="0.8"/><circle cx="411.0" cy="424.4" r="0.8"/><circle cx="411.4" cy="425.0" r="0.8"/><circle cx="412.4" cy="424.7" r="0.8"/><circle cx="413.4" cy="424.7" r="0.8"/><circle cx="414.3" cy="424.3" r="0.8"/><circle cx="415.5" cy="424.8" r="0.8"/><circle cx="416.5" cy="425.1" r="0.8"/><circle cx="417.3" cy="424.6" r="0.8"/><circle cx="418.1" cy="425.4" r="0.8"/><circle cx="419.5" cy="425.5" r="0.8"/><circle cx="420.5" cy="424.6" r="0.8"/><circle cx="421.3" cy="424.7" r="0.8"/><circle cx="422.0" cy="424.7" r="0.8"/><circle cx="423.2" cy="425.3" r="0.8"/><circle cx="424.2" cy="425.1" r="0.8"/><circle cx="425.0" cy="425.0" r="0.8"/><circle cx="409.1" cy="423.4" r="0.8"/><circle cx="409.7" cy="423.8" r="0.8"/><circle cx="410.7" cy="423.2" r="0.8"/><circle cx="411.4" cy="423.4" r="0.8"/><circle cx="412.5" cy="423.0" r="0.8"/><circle cx="413.5" cy="424.2" r="0.8"/><circle cx="414.4" cy="423.8" r="0.8"/><circle cx="415.0" cy="423.6" r="0.8"/><circle cx="416.4" cy="423.7" r="0.8"/><circle cx="417.1" cy="423.3" r="0.8"/><circle cx="417.8" cy="423.3" r="0.8"/><circle cx="418.7" cy="423.2" r="0.8"/><circle cx="419.8" cy="423.2" r="0.8"/><circle cx="420.3" cy="423.1" r="0.8"/><circle cx="421.5" cy="423.8" r="0.8"/><circle cx="422.5" cy="423.1" r="0.8"/><circle cx="423.2" cy="423.5" r="0.8"/><circle cx="424.3" cy="423.1" r="0.8"/><circle cx="425.0" cy="423.6" r="0.8"/><circle cx="425.9" cy="424.3" r="0.8"/><circle cx="409.2" cy="422.8" r="0.8"/><circle cx="410.5" cy="422.8" r="0.8"/><circle cx="411.1" cy="422.4" r="0.8"/><circle cx="412.3" cy="422.0" r="0.8"/><circle cx="413.1" cy="421.8" r="0.8"/><circle cx="414.3" cy="422.2" r="0.8"/><circle cx="415.3" cy="422.8" r="0.8"/><circle cx="415.7" cy="422.2" r="0.8"/><circle cx="417.2" cy="422.4" r="0.8"/><circle cx="417.9" cy="422.9" r="0.8"/><circle cx="418.6" cy="421.8" r="0.8"/><circle cx="419.8" cy="422.3" r="0.8"/><circle cx="420.5" cy="422.4" r="0.8"/><circle cx="421.7" cy="422.0" r="0.8"/><circle cx="422.5" cy="422.1" r="0.8"/><circle cx="423.5" cy="422.0" r="0.8"/><circle cx="424.4" cy="421.7" r="0.8"/><circle cx="425.6" cy="422.0" r="0.8"/><circle cx="409.1" cy="421.0" r="0.8"/><circle cx="409.7" cy="421.4" r="0.8"/><circle cx="409.9" cy="421.2" r="0.8"/><circle cx="410.6" cy="420.1" r="0.8"/><circle cx="410.9" cy="420.3" r="0.8"/><circle cx="411.7" cy="420.4" r="0.8"/><circle cx="412.6" cy="420.6" r="0.8"/><circle cx="412.6" cy="421.3" r="0.8"/><circle cx="413.7" cy="421.2" r="0.8"/><circle cx="414.1" cy="421.4" r="0.8"/><circle cx="414.4" cy="421.3" r="0.8"/><circle cx="415.3" cy="420.5" r="0.8"/><circle cx="415.6" cy="421.5" r="0.8"/><circle cx="416.5" cy="420.6" r="0.8"/><circle cx="416.6" cy="421.4" r="0.8"/><circle cx="417.2" cy="420.3" r="0.8"/><circle cx="418.1" cy="421.2" r="0.8"/><circle cx="418.5" cy="421.2" r="0.8"/><circle cx="418.9" cy="421.2" r="0.8"/><circle cx="419.7" cy="421.1" r="0.8"/><circle cx="420.1" cy="420.9" r="0.8"/><circle cx="420.8" cy="421.4" r="0.8"/><circle cx="421.5" cy="420.6" r="0.8"/><circle cx="422.1" cy="420.4" r="0.8"/><circle cx="422.2" cy="420.9" r="0.8"/><circle cx="423.1" cy="421.4" r="0.8"/><circle cx="423.9" cy="420.4" r="0.8"/><circle cx="424.2" cy="420.2" r="0.8"/><circle cx="424.9" cy="420.7" r="0.8"/><circle cx="425.1" cy="420.9" r="0.8"/><circle cx="426.1" cy="420.3" r="0.8"/><circle cx="408.9" cy="419.5" r="0.8"/><circle cx="409.8" cy="419.5" r="0.8"/><circle cx="410.3" cy="419.3" r="0.8"/><circle cx="411.0" cy="419.9" r="0.8"/><circle cx="411.2" cy="419.4" r="0.8"/><circle cx="412.2" cy="419.5" r="0.8"/><circle cx="412.5" cy="419.3" r="0.8"/><circle cx="413.2" cy="418.7" r="0.8"/><circle cx="413.8" cy="418.8" r="0.8"/><circle cx="414.6" cy="419.9" r="0.8"/><circle cx="415.3" cy="420.0" r="0.8"/><circle cx="416.1" cy="419.3" r="0.8"/><circle cx="416.2" cy="419.8" r="0.8"/><circle cx="416.9" cy="419.0" r="0.8"/><circle cx="417.6" cy="418.7" r="0.8"/><circle cx="418.5" cy="419.8" r="0.8"/><circle cx="419.0" cy="419.6" r="0.8"/><circle cx="419.6" cy="419.3" r="0.8"/><circle cx="420.4" cy="419.5" r="0.8"/><circle cx="421.0" cy="419.6" r="0.8"/><circle cx="421.4" cy="419.7" r="0.8"/><circle cx="421.9" cy="419.6" r="0.8"/><circle cx="422.7" cy="418.7" r="0.8"/><circle cx="423.6" cy="419.8" r="0.8"/><circle cx="424.1" cy="418.9" r="0.8"/><circle cx="424.4" cy="419.7" r="0.8"/><circle cx="425.2" cy="419.4" r="0.8"/><circle cx="425.8" cy="419.3" r="0.8"/><circle cx="408.9" cy="418.5" r="0.8"/><circle cx="409.8" cy="417.3" r="0.8"/><circle cx="410.9" cy="417.3" r="0.8"/><circle cx="411.4" cy="417.3" r="0.8"/><circle cx="412.2" cy="418.0" r="0.8"/><circle cx="413.2" cy="417.9" r="0.8"/><circle cx="414.2" cy="417.6" r="0.8"/><circle cx="415.0" cy="417.8" r="0.8"/><circle cx="415.7" cy="418.5" r="0.8"/><circle cx="416.7" cy="417.9" r="0.8"/><circle cx="417.4" cy="417.6" r="0.8"/><circle cx="418.5" cy="417.4" r="0.8"/><circle cx="419.0" cy="418.6" r="0.8"/><circle cx="419.7" cy="417.5" r="0.8"/><circle cx="421.0" cy="418.4" r="0.8"/><circle cx="421.5" cy="417.3" r="0.8"/><circle cx="422.7" cy="418.5" r="0.8"/><circle cx="423.4" cy="417.9" r="0.8"/><circle cx="424.2" cy="418.5" r="0.8"/><circle cx="424.8" cy="418.6" r="0.8"/><circle cx="426.1" cy="418.3" r="0.8"/><circle cx="408.6" cy="416.6" r="0.8"/><circle cx="410.0" cy="416.8" r="0.8"/><circle cx="410.7" cy="416.7" r="0.8"/><circle cx="411.1" cy="417.0" r="0.8"/><circle cx="411.8" cy="416.8" r="0.8"/><circle cx="413.0" cy="415.9" r="0.8"/><circle cx="413.5" cy="417.1" r="0.8"/><circle cx="414.1" cy="416.2" r="0.8"/><circle cx="415.1" cy="416.2" r="0.8"/><circle cx="415.7" cy="416.4" r="0.8"/><circle cx="416.6" cy="416.1" r="0.8"/><circle cx="417.5" cy="416.2" r="0.8"/><circle cx="418.4" cy="416.5" r="0.8"/><circle cx="419.1" cy="416.9" r="0.8"/><circle cx="419.5" cy="417.1" r="0.8"/><circle cx="420.5" cy="415.9" r="0.8"/><circle cx="421.3" cy="415.9" r="0.8"/><circle cx="422.3" cy="416.9" r="0.8"/><circle cx="422.6" cy="416.5" r="0.8"/><circle cx="423.6" cy="417.0" r="0.8"/><circle cx="424.6" cy="416.6" r="0.8"/><circle cx="425.1" cy="416.8" r="0.8"/><circle cx="425.8" cy="416.7" r="0.8"/><circle cx="408.9" cy="414.7" r="0.8"/><circle cx="409.6" cy="415.6" r="0.8"/><circle cx="410.7" cy="415.6" r="0.8"/><circle cx="411.0" cy="414.6" r="0.8"/><circle cx="411.8" cy="415.0" r="0.8"/><circle cx="412.5" cy="415.1" r="0.8"/><circle cx="413.7" cy="415.1" r="0.8"/><circle cx="414.2" cy="415.4" r="0.8"/><circle cx="415.3" cy="414.9" r="0.8"/><circle cx="416.1" cy="414.8" r="0.8"/><circle cx="416.9" cy="415.1" r="0.8"/><circle cx="417.3" cy="415.7" r="0.8"/><circle cx="417.9" cy="415.0" r="0.8"/><circle cx="418.9" cy="415.3" r="0.8"/><circle cx="420.0" cy="415.0" r="0.8"/><circle cx="420.6" cy="414.9" r="0.8"/><circle cx="421.0" cy="414.9" r="0.8"/><circle cx="422.2" cy="415.1" r="0.8"/><circle cx="423.1" cy="415.5" r="0.8"/><circle cx="423.9" cy="414.6" r="0.8"/><circle cx="424.5" cy="414.9" r="0.8"/><circle cx="425.3" cy="415.3" r="0.8"/><circle cx="426.1" cy="415.8" r="0.8"/><circle cx="412.8" cy="413.1" r="0.8"/><circle cx="413.7" cy="413.7" r="0.8"/><circle cx="415.0" cy="414.4" r="0.8"/><circle cx="415.7" cy="413.7" r="0.8"/><circle cx="416.8" cy="414.4" r="0.8"/><circle cx="418.2" cy="413.6" r="0.8"/><circle cx="418.9" cy="413.4" r="0.8"/><circle cx="419.9" cy="413.6" r="0.8"/><circle cx="421.2" cy="413.2" r="0.8"/><circle cx="421.8" cy="414.4" r="0.8"/><circle cx="412.3" cy="412.7" r="0.8"/><circle cx="413.2" cy="412.3" r="0.8"/><circle cx="413.9" cy="412.8" r="0.8"/><circle cx="414.8" cy="412.9" r="0.8"/><circle cx="415.7" cy="412.9" r="0.8"/><circle cx="417.2" cy="412.5" r="0.8"/><circle cx="417.7" cy="411.8" r="0.8"/><circle cx="418.6" cy="412.3" r="0.8"/><circle cx="420.1" cy="411.8" r="0.8"/><circle cx="420.9" cy="411.8" r="0.8"/><circle cx="421.9" cy="412.4" r="0.8"/><circle cx="422.9" cy="411.7" r="0.8"/><circle cx="414.9" cy="411.0" r="0.8"/><circle cx="416.0" cy="410.2" r="0.8"/><circle cx="417.4" cy="411.1" r="0.8"/><circle cx="418.3" cy="410.4" r="0.8"/><circle cx="419.7" cy="410.7" r="0.8"/><circle cx="413.9" cy="408.8" r="0.8"/><circle cx="414.9" cy="409.8" r="0.8"/><circle cx="415.9" cy="408.8" r="0.8"/><circle cx="416.6" cy="409.7" r="0.8"/><circle cx="417.8" cy="410.1" r="0.8"/><circle cx="419.2" cy="409.5" r="0.8"/><circle cx="419.7" cy="409.2" r="0.8"/><circle cx="421.0" cy="409.0" r="0.8"/><circle cx="414.4" cy="407.5" r="0.8"/><circle cx="416.0" cy="408.0" r="0.8"/><circle cx="416.7" cy="408.6" r="0.8"/><circle cx="417.9" cy="408.1" r="0.8"/><circle cx="419.0" cy="408.1" r="0.8"/><circle cx="420.2" cy="408.6" r="0.8"/><circle cx="415.0" cy="407.3" r="0.8"/><circle cx="415.9" cy="407.0" r="0.8"/><circle cx="416.8" cy="406.7" r="0.8"/><circle cx="417.7" cy="407.1" r="0.8"/><circle cx="419.1" cy="407.1" r="0.8"/><circle cx="420.4" cy="406.5" r="0.8"/><circle cx="414.9" cy="405.6" r="0.8"/><circle cx="416.4" cy="405.3" r="0.8"/><circle cx="417.2" cy="404.8" r="0.8"/><circle cx="418.5" cy="404.9" r="0.8"/><circle cx="419.7" cy="404.8" r="0.8"/><circle cx="416.6" cy="403.8" r="0.8"/><circle cx="418.6" cy="403.5" r="0.8"/><circle cx="417.5" cy="402.1" r="0.8"/></g>
<g fill="none" stroke="#555" stroke-width="0.45"><circle cx="412.8" cy="463.4" r="0.8"/><circle cx="413.8" cy="462.8" r="0.8"/><circle cx="414.4" cy="462.8" r="0.8"/><circle cx="415.1" cy="463.2" r="0.8"/><circle cx="415.8" cy="462.5" r="0.8"/><circle cx="416.6" cy="463.4" r="0.8"/><circle cx="417.3" cy="462.2" r="0.8"/><circle cx="418.0" cy="461.9" r="0.8"/><circle cx="418.7" cy="463.2" r="0.8"/><circle cx="419.6" cy="461.8" r="0.8"/><circle cx="420.3" cy="461.8" r="0.8"/><circle cx="421.4" cy="463.1" r="0.8"/><circle cx="422.1" cy="461.9" r="0.8"/><circle cx="413.7" cy="460.6" r="0.8"/><circle cx="414.9" cy="460.3" r="0.8"/><circle cx="416.1" cy="460.8" r="0.8"/><circle cx="416.8" cy="460.3" r="0.8"/><circle cx="417.9" cy="461.5" r="0.8"/><circle cx="418.9" cy="460.5" r="0.8"/><circle cx="420.1" cy="461.4" r="0.8"/><circle cx="421.3" cy="460.4" r="0.8"/><circle cx="413.6" cy="459.5" r="0.8"/><circle cx="415.1" cy="458.5" r="0.8"/><circle cx="416.0" cy="459.4" r="0.8"/><circle cx="417.1" cy="457.8" r="0.8"/><circle cx="418.0" cy="459.5" r="0.8"/><circle cx="419.2" cy="458.6" r="0.8"/><circle cx="419.9" cy="457.9" r="0.8"/><circle cx="421.1" cy="457.7" r="0.8"/><circle cx="414.6" cy="456.8" r="0.8"/><circle cx="415.8" cy="456.4" r="0.8"/><circle cx="417.0" cy="457.0" r="0.8"/><circle cx="417.8" cy="456.7" r="0.8"/><circle cx="418.8" cy="457.2" r="0.8"/><circle cx="420.3" cy="456.9" r="0.8"/><circle cx="413.5" cy="455.5" r="0.8"/><circle cx="414.5" cy="455.0" r="0.8"/><circle cx="415.3" cy="455.5" r="0.8"/><circle cx="416.5" cy="454.3" r="0.8"/><circle cx="417.2" cy="455.3" r="0.8"/><circle cx="418.5" cy="453.8" r="0.8"/><circle cx="419.5" cy="454.0" r="0.8"/><circle cx="420.5" cy="454.1" r="0.8"/><circle cx="421.4" cy="455.1" r="0.8"/><circle cx="414.1" cy="453.1" r="0.8"/><circle cx="415.4" cy="452.5" r="0.8"/><circle cx="416.3" cy="452.6" r="0.8"/><circle cx="417.5" cy="453.3" r="0.8"/><circle cx="418.4" cy="453.1" r="0.8"/><circle cx="419.3" cy="452.5" r="0.8"/><circle cx="420.6" cy="452.0" r="0.8"/><circle cx="415.7" cy="450.2" r="0.8"/><circle cx="417.1" cy="450.1" r="0.8"/><circle cx="418.2" cy="450.9" r="0.8"/><circle cx="418.9" cy="451.0" r="0.8"/><circle cx="414.4" cy="449.2" r="0.8"/><circle cx="415.2" cy="448.6" r="0.8"/><circle cx="416.5" cy="448.9" r="0.8"/><circle cx="417.3" cy="449.1" r="0.8"/><circle cx="418.3" cy="448.0" r="0.8"/><circle cx="419.5" cy="449.4" r="0.8"/><circle cx="420.6" cy="448.1" r="0.8"/><circle cx="413.0" cy="446.4" r="0.8"/><circle cx="413.9" cy="446.8" r="0.8"/><circle cx="414.8" cy="446.9" r="0.8"/><circle cx="415.5" cy="446.9" r="0.8"/><circle cx="416.6" cy="446.6" r="0.8"/><circle cx="417.3" cy="446.9" r="0.8"/><circle cx="418.4" cy="445.7" r="0.8"/><circle cx="419.2" cy="445.7" r="0.8"/><circle cx="420.1" cy="446.9" r="0.8"/><circle cx="420.7" cy="447.2" r="0.8"/><circle cx="421.9" cy="445.6" r="0.8"/><circle cx="415.0" cy="445.4" r="0.8"/><circle cx="416.2" cy="444.2" r="0.8"/><circle cx="417.1" cy="444.3" r="0.8"/><circle cx="418.6" cy="444.4" r="0.8"/><circle cx="419.9" cy="443.6" r="0.8"/><circle cx="413.3" cy="442.5" r="0.8"/><circle cx="414.1" cy="442.5" r="0.8"/><circle cx="415.4" cy="443.1" r="0.8"/><circle cx="416.2" cy="442.3" r="0.8"/><circle cx="417.6" cy="442.9" r="0.8"/><circle cx="418.2" cy="441.6" r="0.8"/><circle cx="419.3" cy="441.8" r="0.8"/><circle cx="420.4" cy="442.9" r="0.8"/><circle cx="421.2" cy="442.9" r="0.8"/><circle cx="414.1" cy="440.0" r="0.8"/><circle cx="415.2" cy="441.1" r="0.8"/><circle cx="416.5" cy="440.5" r="0.8"/><circle cx="417.7" cy="439.9" r="0.8"/><circle cx="418.4" cy="440.4" r="0.8"/><circle cx="419.7" cy="439.6" r="0.8"/><circle cx="420.3" cy="441.3" r="0.8"/><circle cx="416.5" cy="437.4" r="0.8"/><circle cx="418.3" cy="439.3" r="0.8"/><circle cx="413.7" cy="437.1" r="0.8"/><circle cx="415.0" cy="436.4" r="0.8"/><circle cx="416.0" cy="436.6" r="0.8"/><circle cx="416.7" cy="435.8" r="0.8"/><circle cx="417.8" cy="436.4" r="0.8"/><circle cx="419.1" cy="436.9" r="0.8"/><circle cx="420.3" cy="436.7" r="0.8"/><circle cx="421.1" cy="436.8" r="0.8"/><circle cx="413.1" cy="433.7" r="0.8"/><circle cx="414.0" cy="433.5" r="0.8"/><circle cx="414.7" cy="433.9" r="0.8"/><circle cx="415.4" cy="435.3" r="0.8"/><circle cx="416.0" cy="434.8" r="0.8"/><circle cx="416.9" cy="434.7" r="0.8"/><circle cx="417.9" cy="433.7" r="0.8"/><circle cx="418.9" cy="433.4" r="0.8"/><circle cx="419.3" cy="435.0" r="0.8"/><circle cx="420.2" cy="434.0" r="0.8"/><circle cx="420.8" cy="434.7" r="0.8"/><circle cx="422.0" cy="434.4" r="0.8"/><circle cx="413.3" cy="432.7" r="0.8"/><circle cx="414.5" cy="431.6" r="0.8"/><circle cx="415.2" cy="431.9" r="0.8"/><circle cx="416.5" cy="432.3" r="0.8"/><circle cx="417.5" cy="431.9" r="0.8"/><circle cx="418.4" cy="432.0" r="0.8"/><circle cx="419.2" cy="431.6" r="0.8"/><circle cx="420.4" cy="432.8" r="0.8"/><circle cx="421.6" cy="431.6" r="0.8"/><circle cx="415.0" cy="431.0" r="0.8"/><circle cx="416.0" cy="430.6" r="0.8"/><circle cx="417.4" cy="431.1" r="0.8"/><circle cx="418.4" cy="430.9" r="0.8"/><circle cx="419.8" cy="431.3" r="0.8"/></g>
<line x1="408.70" y1="426.40" x2="426.20" y2="426.40" stroke="#e0372b" stroke-width="1.2" />
<line x1="400.20" y1="429.30" x2="434.20" y2="429.30" stroke="#333" stroke-width="0.7" stroke-dasharray="1.2,1"/>
<path d="M497.30,406.80 L497.30,370.70 A36.1,36.1 0 0 1 504.99,371.53 Z" fill="#bcd6ec" stroke="none" stroke-width="0" />
<path d="M497.30,406.80 L504.99,371.53 A36.1,36.1 0 0 1 512.78,374.19 Z" fill="#a68ecb" stroke="none" stroke-width="0" />
<path d="M497.30,406.80 L512.78,374.19 A36.1,36.1 0 0 1 530.82,393.39 Z" fill="#fdd17f" stroke="none" stroke-width="0" />
<path d="M497.30,406.80 L530.82,393.39 A36.1,36.1 0 0 1 532.96,401.15 Z" fill="#c05e22" stroke="none" stroke-width="0" />
<path d="M497.30,406.80 L532.96,401.15 A36.1,36.1 0 1 1 497.30,370.70 Z" fill="#7ec57d" stroke="none" stroke-width="0" />
<rect x="466.00" y="452.80" width="6.40" height="6.40" fill="#7ec57d" stroke="none" stroke-width="0" />
<text x="474.80" y="458.80" font-size="7.9" fill="#222" stroke="#222" stroke-width="0.1" textLength="33.50" lengthAdjust="spacingAndGlyphs" >Missense</text>
<rect x="466.00" y="464.30" width="6.40" height="6.40" fill="#bcd6ec" stroke="none" stroke-width="0" />
<text x="474.80" y="470.30" font-size="7.9" fill="#222" stroke="#222" stroke-width="0.1" textLength="51.90" lengthAdjust="spacingAndGlyphs" >Inframe INDEL</text>
<rect x="466.00" y="475.80" width="6.40" height="6.40" fill="#fdd17f" stroke="none" stroke-width="0" />
<text x="474.80" y="481.80" font-size="7.9" fill="#222" stroke="#222" stroke-width="0.1" textLength="104.10" lengthAdjust="spacingAndGlyphs" >Truncating - frameshift INDEL</text>
<rect x="466.00" y="486.90" width="6.40" height="6.40" fill="#a68ecb" stroke="none" stroke-width="0" />
<text x="474.80" y="492.90" font-size="7.9" fill="#222" stroke="#222" stroke-width="0.1" textLength="78.80" lengthAdjust="spacingAndGlyphs" >Truncating - nonsense</text>
<rect x="466.00" y="497.80" width="6.40" height="6.40" fill="#c05e22" stroke="none" stroke-width="0" />
<text x="474.80" y="503.80" font-size="7.9" fill="#222" stroke="#222" stroke-width="0.1" textLength="64.70" lengthAdjust="spacingAndGlyphs" >Truncating - splice</text>
<text x="34.00" y="550.90" font-size="9.8" fill="#111" font-weight="bold" textLength="76.60" lengthAdjust="spacingAndGlyphs" >BRCA2-proficient</text>
<text x="311.00" y="551.30" font-size="9.8" fill="#111" font-weight="bold" textLength="72.00" lengthAdjust="spacingAndGlyphs" >BRCA2-deficient</text>
<rect x="294.30" y="553.20" width="2.00" height="252.20" fill="#111" stroke="none" stroke-width="0" />
<rect x="84.90" y="581.60" width="191.80" height="5.70" fill="url(#dg)" stroke="none" stroke-width="0" />
<line x1="84.90" y1="581.60" x2="276.70" y2="581.60" stroke="#a9bcd6" stroke-width="1.1" />
<line x1="84.90" y1="587.30" x2="276.70" y2="587.30" stroke="#5d7394" stroke-width="1.2" />
<g fill="#fff"><rect x="86.40" y="582.50" width="3.4" height="3.80"/><rect x="91.05" y="582.50" width="3.4" height="3.80"/><rect x="95.70" y="582.50" width="3.4" height="3.80"/><rect x="100.35" y="582.50" width="3.4" height="3.80"/><rect x="105.00" y="582.50" width="3.4" height="3.80"/><rect x="109.65" y="582.50" width="3.4" height="3.80"/><rect x="114.30" y="582.50" width="3.4" height="3.80"/><rect x="118.95" y="582.50" width="3.4" height="3.80"/><rect x="123.60" y="582.50" width="3.4" height="3.80"/><rect x="128.25" y="582.50" width="3.4" height="3.80"/><rect x="132.90" y="582.50" width="3.4" height="3.80"/><rect x="137.55" y="582.50" width="3.4" height="3.80"/><rect x="142.20" y="582.50" width="3.4" height="3.80"/><rect x="146.85" y="582.50" width="3.4" height="3.80"/><rect x="151.50" y="582.50" width="3.4" height="3.80"/><rect x="156.15" y="582.50" width="3.4" height="3.80"/><rect x="160.80" y="582.50" width="3.4" height="3.80"/><rect x="165.45" y="582.50" width="3.4" height="3.80"/><rect x="170.10" y="582.50" width="3.4" height="3.80"/><rect x="174.75" y="582.50" width="3.4" height="3.80"/><rect x="179.40" y="582.50" width="3.4" height="3.80"/><rect x="184.05" y="582.50" width="3.4" height="3.80"/><rect x="188.70" y="582.50" width="3.4" height="3.80"/><rect x="193.35" y="582.50" width="3.4" height="3.80"/><rect x="198.00" y="582.50" width="3.4" height="3.80"/><rect x="202.65" y="582.50" width="3.4" height="3.80"/><rect x="207.30" y="582.50" width="3.4" height="3.80"/><rect x="211.95" y="582.50" width="3.4" height="3.80"/><rect x="216.60" y="582.50" width="3.4" height="3.80"/><rect x="221.25" y="582.50" width="3.4" height="3.80"/><rect x="225.90" y="582.50" width="3.4" height="3.80"/><rect x="230.55" y="582.50" width="3.4" height="3.80"/><rect x="235.20" y="582.50" width="3.4" height="3.80"/><rect x="239.85" y="582.50" width="3.4" height="3.80"/><rect x="244.50" y="582.50" width="3.4" height="3.80"/><rect x="249.15" y="582.50" width="3.4" height="3.80"/><rect x="253.80" y="582.50" width="3.4" height="3.80"/><rect x="258.45" y="582.50" width="3.4" height="3.80"/><rect x="263.10" y="582.50" width="3.4" height="3.80"/><rect x="267.75" y="582.50" width="3.4" height="3.80"/><rect x="272.40" y="582.50" width="3.4" height="3.80"/></g>
<path d="M35.30,573.80 L63.30,573.80 L70.30,578.70" fill="none" stroke="#9bb0cc" stroke-width="1.3" stroke-linejoin="round"/>
<path d="M38.10,573.80 l-0.00,2.00 M43.70,573.80 l-0.00,2.00 M49.30,573.80 l-0.00,2.00 M54.90,573.80 l-0.00,2.00 M60.50,573.80 l-0.00,2.00 M65.59,575.41 l-1.15,1.64 M70.18,578.62 l-1.15,1.64" fill="none" stroke="#9bb0cc" stroke-width="1.0" />
<path d="M35.30,594.80 L62.70,594.80 L70.30,589.80" fill="none" stroke="#5d7394" stroke-width="1.3" stroke-linejoin="round"/>
<path d="M38.10,594.80 l0.00,-2.00 M43.70,594.80 l0.00,-2.00 M49.30,594.80 l0.00,-2.00 M54.90,594.80 l0.00,-2.00 M60.50,594.80 l0.00,-2.00 M65.54,592.93 l-1.10,-1.67 M70.22,589.85 l-1.10,-1.67" fill="none" stroke="#5d7394" stroke-width="1.0" />
<g filter="url(#bl3)">
<ellipse cx="73.60" cy="581.40" rx="3.30" ry="3.00" fill="#c6c8e1" stroke="none" stroke-width="0" />
<ellipse cx="73.60" cy="587.90" rx="3.30" ry="3.30" fill="#8190ad" stroke="none" stroke-width="0" />
<path d="M70.00,583.00 L74.40,584.60 L70.00,586.20 Z" fill="#fff" stroke="none" stroke-width="0" />
</g>
<ellipse cx="80.40" cy="584.50" rx="2.60" ry="4.75" fill="none" stroke="#1e2a6e" stroke-width="1.7" />
<path d="M47.80,573.80 L47.80,567.60 L52.60,567.60" fill="none" stroke="#111" stroke-width="0.8" />
<path d="M52.10,566.30 L54.10,567.60 L52.10,568.90 Z" fill="#111" stroke="none" stroke-width="0" />
<text x="45.80" y="565.10" font-size="6.0" fill="#222" stroke="#222" stroke-width="0.1" textLength="10.80" lengthAdjust="spacingAndGlyphs" >TSS</text>
<g>
<ellipse cx="76.70" cy="569.90" rx="12.20" ry="5.40" fill="#bcbde6" stroke="#5b5b9e" stroke-width="0.8" />
<text x="67.20" y="572.20" font-size="6.6" fill="#222" stroke="#222" stroke-width="0.1" textLength="19.00" lengthAdjust="spacingAndGlyphs" >BRCA2</text>
</g>
<path d="M162.70,582.00 L163.86,580.86 L165.03,579.73 L166.19,578.62 L167.36,577.52 L168.52,576.45 L169.69,575.42 L170.85,574.42 L172.02,573.48 L173.19,572.58 L174.35,571.75 L175.51,570.97 L176.68,570.27 L177.84,569.64 L179.01,569.08 L180.18,568.60 L181.34,568.21 L182.50,567.90 L183.67,567.68 L184.84,567.54 L186.00,567.50 L186.80,567.52 L187.60,567.58 L188.40,567.68 L189.20,567.82 L190.00,567.99 L190.80,568.21 L191.60,568.46 L192.40,568.74 L193.20,569.06 L194.00,569.40 L194.80,569.78 L195.60,570.18 L196.40,570.60 L197.20,571.05 L198.00,571.51 L198.80,571.99 L199.60,572.48 L200.40,572.98 L201.20,573.49 L202.00,574.00" fill="none" stroke="#a9bcd6" stroke-width="1.4" stroke-linejoin="round"/>
<path d="M164.31,580.43 l1.18,1.22 M167.57,577.33 l1.15,1.25 M170.94,574.35 l1.07,1.32 M174.53,571.63 l0.94,1.42 M178.41,569.37 l0.73,1.53 M182.64,567.87 l0.32,1.67 M187.12,567.54 l-0.13,1.70 M191.52,568.43 l-0.51,1.62 M195.65,570.20 l-0.80,1.50 M199.55,572.45 l-0.89,1.45" fill="none" stroke="#a9bcd6" stroke-width="1.0" />
<path d="M134.20,599.50 L135.29,598.17 L136.38,596.86 L137.47,595.55 L138.56,594.28 L139.65,593.03 L140.74,591.83 L141.83,590.67 L142.92,589.57 L144.01,588.52 L145.10,587.55 L146.19,586.65 L147.28,585.83 L148.37,585.09 L149.46,584.44 L150.55,583.89 L151.64,583.43 L152.73,583.07 L153.82,582.81 L154.91,582.65 L156.00,582.60 L203.00,582.60" fill="none" stroke="#23a05a" stroke-width="1.3" stroke-linejoin="round"/>
<path d="M135.53,597.88 l1.39,1.15 M138.23,594.66 l1.37,1.17 M141.03,591.52 l1.31,1.23 M143.99,588.55 l1.24,1.30 M147.22,585.87 l1.08,1.44 M150.84,583.76 l0.70,1.66 M154.88,582.66 l0.25,1.78 M159.08,582.60 l-0.00,1.80 M163.28,582.60 l-0.00,1.80 M167.48,582.60 l-0.00,1.80 M171.68,582.60 l-0.00,1.80 M175.88,582.60 l-0.00,1.80 M180.08,582.60 l-0.00,1.80 M184.28,582.60 l-0.00,1.80 M188.48,582.60 l-0.00,1.80 M192.68,582.60 l-0.00,1.80 M196.88,582.60 l-0.00,1.80 M201.08,582.60 l-0.00,1.80" fill="none" stroke="#23a05a" stroke-width="1.0" />
<g>
<ellipse cx="208.90" cy="577.10" rx="12.20" ry="5.60" fill="#8cb6e2" stroke="#3d5e94" stroke-width="0.8" />
<text x="198.65" y="579.40" font-size="6.6" fill="#222" stroke="#222" stroke-width="0.1" textLength="20.50" lengthAdjust="spacingAndGlyphs" >RNAP2</text>
</g>
<g>
<ellipse cx="214.60" cy="587.00" rx="12.20" ry="6.20" fill="#bcbde6" stroke="#5b5b9e" stroke-width="0.8" />
<text x="204.35" y="589.30" font-size="6.6" fill="#222" stroke="#222" stroke-width="0.1" textLength="20.50" lengthAdjust="spacingAndGlyphs" >BRCA2</text>
</g>
<g>
<ellipse cx="224.00" cy="597.30" rx="12.20" ry="6.40" fill="#85c385" stroke="#3d7d3d" stroke-width="0.8" />
<text x="218.50" y="599.60" font-size="6.6" fill="#222" stroke="#222" stroke-width="0.1" textLength="11.00" lengthAdjust="spacingAndGlyphs" >RH2</text>
</g>
<text x="229.30" y="573.20" font-size="6.0" fill="#222" stroke="#222" stroke-width="0.1" textLength="9.70" lengthAdjust="spacingAndGlyphs" >TTS</text>
<line x1="234.00" y1="574.50" x2="234.00" y2="582.00" stroke="#333" stroke-width="0.8" />
<rect x="111.00" y="648.80" width="165.80" height="5.50" fill="url(#dg)" stroke="none" stroke-width="0" />
<line x1="111.00" y1="648.80" x2="276.80" y2="648.80" stroke="#a9bcd6" stroke-width="1.1" />
<line x1="111.00" y1="654.30" x2="276.80" y2="654.30" stroke="#5d7394" stroke-width="1.2" />
<g fill="#fff"><rect x="112.50" y="649.70" width="3.4" height="3.60"/><rect x="117.15" y="649.70" width="3.4" height="3.60"/><rect x="121.80" y="649.70" width="3.4" height="3.60"/><rect x="126.45" y="649.70" width="3.4" height="3.60"/><rect x="131.10" y="649.70" width="3.4" height="3.60"/><rect x="135.75" y="649.70" width="3.4" height="3.60"/><rect x="140.40" y="649.70" width="3.4" height="3.60"/><rect x="145.05" y="649.70" width="3.4" height="3.60"/><rect x="149.70" y="649.70" width="3.4" height="3.60"/><rect x="154.35" y="649.70" width="3.4" height="3.60"/><rect x="159.00" y="649.70" width="3.4" height="3.60"/><rect x="163.65" y="649.70" width="3.4" height="3.60"/><rect x="168.30" y="649.70" width="3.4" height="3.60"/><rect x="172.95" y="649.70" width="3.4" height="3.60"/><rect x="177.60" y="649.70" width="3.4" height="3.60"/><rect x="182.25" y="649.70" width="3.4" height="3.60"/><rect x="186.90" y="649.70" width="3.4" height="3.60"/><rect x="191.55" y="649.70" width="3.4" height="3.60"/><rect x="196.20" y="649.70" width="3.4" height="3.60"/><rect x="200.85" y="649.70" width="3.4" height="3.60"/><rect x="205.50" y="649.70" width="3.4" height="3.60"/><rect x="210.15" y="649.70" width="3.4" height="3.60"/><rect x="214.80" y="649.70" width="3.4" height="3.60"/><rect x="219.45" y="649.70" width="3.4" height="3.60"/><rect x="224.10" y="649.70" width="3.4" height="3.60"/><rect x="228.75" y="649.70" width="3.4" height="3.60"/><rect x="233.40" y="649.70" width="3.4" height="3.60"/><rect x="238.05" y="649.70" width="3.4" height="3.60"/><rect x="242.70" y="649.70" width="3.4" height="3.60"/><rect x="247.35" y="649.70" width="3.4" height="3.60"/><rect x="252.00" y="649.70" width="3.4" height="3.60"/><rect x="256.65" y="649.70" width="3.4" height="3.60"/><rect x="261.30" y="649.70" width="3.4" height="3.60"/><rect x="265.95" y="649.70" width="3.4" height="3.60"/><rect x="270.60" y="649.70" width="3.4" height="3.60"/></g>
<path d="M35.10,640.90 L62.80,640.90 L98.60,647.20" fill="none" stroke="#9bb0cc" stroke-width="1.3" stroke-linejoin="round"/>
<path d="M37.90,640.90 l-0.00,2.00 M43.50,640.90 l-0.00,2.00 M49.10,640.90 l-0.00,2.00 M54.70,640.90 l-0.00,2.00 M60.30,640.90 l-0.00,2.00 M65.85,641.44 l-0.35,1.97 M71.37,642.41 l-0.35,1.97 M76.88,643.38 l-0.35,1.97 M82.40,644.35 l-0.35,1.97 M87.91,645.32 l-0.35,1.97 M93.43,646.29 l-0.35,1.97" fill="none" stroke="#9bb0cc" stroke-width="1.0" />
<path d="M35.10,662.60 L62.80,662.60 L98.60,655.80" fill="none" stroke="#5d7394" stroke-width="1.3" stroke-linejoin="round"/>
<path d="M37.90,662.60 l0.00,-2.00 M43.50,662.60 l0.00,-2.00 M49.10,662.60 l0.00,-2.00 M54.70,662.60 l0.00,-2.00 M60.30,662.60 l0.00,-2.00 M65.85,662.02 l-0.37,-1.96 M71.35,660.98 l-0.37,-1.96 M76.85,659.93 l-0.37,-1.96 M82.35,658.89 l-0.37,-1.96 M87.85,657.84 l-0.37,-1.96 M93.35,656.80 l-0.37,-1.96" fill="none" stroke="#5d7394" stroke-width="1.0" />
<g filter="url(#bl3)">
<ellipse cx="101.60" cy="648.20" rx="3.30" ry="3.00" fill="#c6c8e1" stroke="none" stroke-width="0" />
<ellipse cx="101.60" cy="654.70" rx="3.30" ry="3.30" fill="#8190ad" stroke="none" stroke-width="0" />
<path d="M98.00,649.80 L102.40,651.40 L98.00,653.00 Z" fill="#fff" stroke="none" stroke-width="0" />
</g>
<ellipse cx="108.50" cy="651.20" rx="2.60" ry="4.75" fill="none" stroke="#1e2a6e" stroke-width="1.7" />
<path d="M47.80,640.90 L47.80,634.60 L52.60,634.60" fill="none" stroke="#111" stroke-width="0.8" />
<path d="M52.10,633.30 L54.10,634.60 L52.10,635.90 Z" fill="#111" stroke="none" stroke-width="0" />
<text x="45.30" y="632.40" font-size="6.0" fill="#222" stroke="#222" stroke-width="0.1" textLength="11.00" lengthAdjust="spacingAndGlyphs" >TSS</text>
<text x="73.10" y="639.70" font-size="6.0" fill="#222" stroke="#222" stroke-width="0.1" textLength="40.90" lengthAdjust="spacingAndGlyphs" >fork progression</text>
<path d="M163.00,649.20 L164.10,648.01 L165.20,646.82 L166.30,645.65 L167.40,644.50 L168.50,643.38 L169.60,642.30 L170.70,641.26 L171.80,640.27 L172.90,639.33 L174.00,638.45 L175.10,637.64 L176.20,636.90 L177.30,636.24 L178.40,635.66 L179.50,635.16 L180.60,634.74 L181.70,634.42 L182.80,634.19 L183.90,634.05 L185.00,634.00 L185.85,634.02 L186.70,634.09 L187.55,634.21 L188.40,634.37 L189.25,634.57 L190.10,634.82 L190.95,635.11 L191.80,635.43 L192.65,635.80 L193.50,636.20 L194.35,636.63 L195.20,637.09 L196.05,637.58 L196.90,638.10 L197.75,638.63 L198.60,639.18 L199.45,639.75 L200.30,640.33 L201.15,640.91 L202.00,641.50" fill="none" stroke="#a9bcd6" stroke-width="1.4" stroke-linejoin="round"/>
<path d="M164.53,647.55 l1.25,1.16 M167.62,644.28 l1.21,1.19 M170.84,641.13 l1.14,1.26 M174.28,638.24 l1.01,1.37 M178.07,635.83 l0.80,1.50 M182.29,634.30 l0.35,1.66 M186.76,634.10 l-0.23,1.68 M191.12,635.17 l-0.61,1.59 M195.19,637.09 l-0.81,1.49 M199.01,639.46 l-0.94,1.41" fill="none" stroke="#a9bcd6" stroke-width="1.0" />
<path d="M134.20,666.50 L135.29,665.19 L136.38,663.89 L137.47,662.60 L138.56,661.34 L139.65,660.11 L140.74,658.92 L141.83,657.77 L142.92,656.68 L144.01,655.65 L145.10,654.69 L146.19,653.80 L147.28,652.99 L148.37,652.26 L149.46,651.62 L150.55,651.07 L151.64,650.62 L152.73,650.26 L153.82,650.01 L154.91,649.85 L156.00,649.80 L203.00,649.80" fill="none" stroke="#23a05a" stroke-width="1.3" stroke-linejoin="round"/>
<path d="M135.54,664.89 l1.38,1.16 M138.26,661.68 l1.36,1.18 M141.08,658.57 l1.30,1.24 M144.06,655.61 l1.19,1.35 M147.32,652.97 l1.00,1.50 M150.96,650.90 l0.69,1.66 M155.01,649.85 l0.08,1.80 M159.21,649.80 l-0.00,1.80 M163.41,649.80 l-0.00,1.80 M167.61,649.80 l-0.00,1.80 M171.81,649.80 l-0.00,1.80 M176.01,649.80 l-0.00,1.80 M180.21,649.80 l-0.00,1.80 M184.41,649.80 l-0.00,1.80 M188.61,649.80 l-0.00,1.80 M192.81,649.80 l-0.00,1.80 M197.01,649.80 l-0.00,1.80 M201.21,649.80 l-0.00,1.80" fill="none" stroke="#23a05a" stroke-width="1.0" />
<g>
<ellipse cx="208.90" cy="643.20" rx="12.20" ry="5.70" fill="#8cb6e2" stroke="#3d5e94" stroke-width="0.8" />
<text x="198.65" y="645.50" font-size="6.6" fill="#222" stroke="#222" stroke-width="0.1" textLength="20.50" lengthAdjust="spacingAndGlyphs" >RNAP2</text>
</g>
<g>
<ellipse cx="214.90" cy="654.10" rx="12.20" ry="6.20" fill="#bcbde6" stroke="#5b5b9e" stroke-width="0.8" />
<text x="204.65" y="656.40" font-size="6.6" fill="#222" stroke="#222" stroke-width="0.1" textLength="20.50" lengthAdjust="spacingAndGlyphs" >BRCA2</text>
</g>
<g>
<ellipse cx="223.80" cy="664.20" rx="12.20" ry="6.50" fill="#85c385" stroke="#3d7d3d" stroke-width="0.8" />
<text x="218.30" y="666.50" font-size="6.6" fill="#222" stroke="#222" stroke-width="0.1" textLength="11.00" lengthAdjust="spacingAndGlyphs" >RH2</text>
</g>
<text x="230.00" y="640.50" font-size="6.0" fill="#222" stroke="#222" stroke-width="0.1" textLength="10.00" lengthAdjust="spacingAndGlyphs" >TTS</text>
<line x1="235.00" y1="641.50" x2="235.00" y2="649.00" stroke="#333" stroke-width="0.8" />
<text x="233.50" y="630.80" font-size="6.0" fill="#222" stroke="#222" stroke-width="0.1" textLength="53.40" lengthAdjust="spacingAndGlyphs" >suppressed dormant</text>
<text x="247.50" y="638.20" font-size="6.0" fill="#222" stroke="#222" stroke-width="0.1" textLength="27.50" lengthAdjust="spacingAndGlyphs" >origin firing</text>
<line x1="249.80" y1="642.50" x2="268.80" y2="661.50" stroke="#ec5262" stroke-width="3.0" opacity="0.5"/>
<line x1="268.80" y1="642.50" x2="249.80" y2="661.50" stroke="#ec5262" stroke-width="3.0" opacity="0.5"/>
<rect x="356.60" y="582.80" width="199.40" height="5.60" fill="url(#dg)" stroke="none" stroke-width="0" />
<line x1="356.60" y1="582.80" x2="556.00" y2="582.80" stroke="#a9bcd6" stroke-width="1.1" />
<line x1="356.60" y1="588.40" x2="556.00" y2="588.40" stroke="#5d7394" stroke-width="1.2" />
<g fill="#fff"><rect x="358.10" y="583.70" width="3.4" height="3.70"/><rect x="362.75" y="583.70" width="3.4" height="3.70"/><rect x="367.40" y="583.70" width="3.4" height="3.70"/><rect x="372.05" y="583.70" width="3.4" height="3.70"/><rect x="376.70" y="583.70" width="3.4" height="3.70"/><rect x="381.35" y="583.70" width="3.4" height="3.70"/><rect x="386.00" y="583.70" width="3.4" height="3.70"/><rect x="390.65" y="583.70" width="3.4" height="3.70"/><rect x="395.30" y="583.70" width="3.4" height="3.70"/><rect x="399.95" y="583.70" width="3.4" height="3.70"/><rect x="404.60" y="583.70" width="3.4" height="3.70"/><rect x="409.25" y="583.70" width="3.4" height="3.70"/><rect x="413.90" y="583.70" width="3.4" height="3.70"/><rect x="418.55" y="583.70" width="3.4" height="3.70"/><rect x="423.20" y="583.70" width="3.4" height="3.70"/><rect x="427.85" y="583.70" width="3.4" height="3.70"/><rect x="432.50" y="583.70" width="3.4" height="3.70"/><rect x="437.15" y="583.70" width="3.4" height="3.70"/><rect x="441.80" y="583.70" width="3.4" height="3.70"/><rect x="446.45" y="583.70" width="3.4" height="3.70"/><rect x="451.10" y="583.70" width="3.4" height="3.70"/><rect x="455.75" y="583.70" width="3.4" height="3.70"/><rect x="460.40" y="583.70" width="3.4" height="3.70"/><rect x="465.05" y="583.70" width="3.4" height="3.70"/><rect x="469.70" y="583.70" width="3.4" height="3.70"/><rect x="474.35" y="583.70" width="3.4" height="3.70"/><rect x="479.00" y="583.70" width="3.4" height="3.70"/><rect x="483.65" y="583.70" width="3.4" height="3.70"/><rect x="488.30" y="583.70" width="3.4" height="3.70"/><rect x="492.95" y="583.70" width="3.4" height="3.70"/><rect x="497.60" y="583.70" width="3.4" height="3.70"/><rect x="502.25" y="583.70" width="3.4" height="3.70"/><rect x="506.90" y="583.70" width="3.4" height="3.70"/><rect x="511.55" y="583.70" width="3.4" height="3.70"/><rect x="516.20" y="583.70" width="3.4" height="3.70"/><rect x="520.85" y="583.70" width="3.4" height="3.70"/><rect x="525.50" y="583.70" width="3.4" height="3.70"/><rect x="530.15" y="583.70" width="3.4" height="3.70"/><rect x="534.80" y="583.70" width="3.4" height="3.70"/><rect x="539.45" y="583.70" width="3.4" height="3.70"/><rect x="544.10" y="583.70" width="3.4" height="3.70"/><rect x="548.75" y="583.70" width="3.4" height="3.70"/></g>
<path d="M314.00,574.40 L343.50,574.40" fill="none" stroke="#9bb0cc" stroke-width="1.3" stroke-linejoin="round"/>
<path d="M316.80,574.40 l-0.00,2.00 M322.40,574.40 l-0.00,2.00 M328.00,574.40 l-0.00,2.00 M333.60,574.40 l-0.00,2.00 M339.20,574.40 l-0.00,2.00" fill="none" stroke="#9bb0cc" stroke-width="1.0" />
<path d="M314.00,595.90 L343.50,595.90" fill="none" stroke="#5d7394" stroke-width="1.3" stroke-linejoin="round"/>
<path d="M316.80,595.90 l0.00,-2.00 M322.40,595.90 l0.00,-2.00 M328.00,595.90 l0.00,-2.00 M333.60,595.90 l0.00,-2.00 M339.20,595.90 l0.00,-2.00" fill="none" stroke="#5d7394" stroke-width="1.0" />
<circle cx="346.00" cy="577.90" r="2.20" fill="#c4202f" stroke="none" stroke-width="0" />
<circle cx="350.30" cy="579.90" r="2.20" fill="#c4202f" stroke="none" stroke-width="0" />
<circle cx="354.40" cy="582.00" r="2.20" fill="#c4202f" stroke="none" stroke-width="0" />
<circle cx="345.80" cy="594.20" r="2.20" fill="#c4202f" stroke="none" stroke-width="0" />
<circle cx="350.30" cy="591.90" r="2.20" fill="#c4202f" stroke="none" stroke-width="0" />
<circle cx="354.40" cy="589.60" r="2.20" fill="#c4202f" stroke="none" stroke-width="0" />
<text x="336.70" y="587.10" font-size="6.0" fill="#222" stroke="#222" stroke-width="0.1" textLength="10.50" lengthAdjust="spacingAndGlyphs" >RPA</text>
<path d="M326.70,574.40 L326.70,568.50 L331.50,568.50" fill="none" stroke="#111" stroke-width="0.8" />
<path d="M331.00,567.20 L333.00,568.50 L331.00,569.80 Z" fill="#111" stroke="none" stroke-width="0" />
<text x="324.60" y="566.10" font-size="6.0" fill="#222" stroke="#222" stroke-width="0.1" textLength="10.20" lengthAdjust="spacingAndGlyphs" >TSS</text>
<text x="351.20" y="576.00" font-size="5.8" fill="#c42a3a" stroke="#c42a3a" stroke-width="0.1" textLength="65.60" lengthAdjust="spacingAndGlyphs" >elevated replication stress</text>
<g>
<ellipse cx="359.90" cy="603.30" rx="12.20" ry="6.00" fill="#dcdcf0" stroke="#a8a8cc" stroke-width="0.8" />
<text x="349.90" y="605.60" font-size="6.6" fill="#666" stroke="#666" stroke-width="0.1" textLength="20.00" lengthAdjust="spacingAndGlyphs" >BRCA2</text>
</g>
<line x1="351.85" y1="595.95" x2="369.35" y2="613.45" stroke="#ec5262" stroke-width="3.0" opacity="0.5"/>
<line x1="369.35" y1="595.95" x2="351.85" y2="613.45" stroke="#ec5262" stroke-width="3.0" opacity="0.5"/>
<path d="M440.50,583.20 L441.52,582.09 L442.55,580.98 L443.57,579.89 L444.60,578.81 L445.62,577.77 L446.65,576.75 L447.68,575.78 L448.70,574.85 L449.73,573.98 L450.75,573.16 L451.77,572.40 L452.80,571.71 L453.82,571.09 L454.85,570.55 L455.88,570.08 L456.90,569.69 L457.93,569.39 L458.95,569.17 L459.98,569.04 L461.00,569.00 L461.95,569.02 L462.90,569.07 L463.85,569.15 L464.80,569.27 L465.75,569.42 L466.70,569.60 L467.65,569.81 L468.60,570.05 L469.55,570.32 L470.50,570.61 L471.45,570.93 L472.40,571.27 L473.35,571.63 L474.30,572.00 L475.25,572.40 L476.20,572.80 L477.15,573.22 L478.10,573.64 L479.05,574.07 L480.00,574.50" fill="none" stroke="#a9bcd6" stroke-width="1.4" stroke-linejoin="round"/>
<path d="M442.03,581.55 l1.25,1.15 M445.12,578.28 l1.21,1.19 M448.36,575.16 l1.14,1.26 M451.87,572.34 l0.95,1.41 M455.77,570.13 l0.70,1.55 M460.12,569.04 l0.07,1.70 M464.61,569.25 l-0.21,1.69 M469.01,570.17 l-0.46,1.64 M473.27,571.60 l-0.60,1.59 M477.42,573.34 l-0.69,1.55" fill="none" stroke="#a9bcd6" stroke-width="1.0" />
<path d="M412.80,600.30 L413.91,598.97 L415.02,597.66 L416.13,596.35 L417.24,595.08 L418.35,593.83 L419.46,592.63 L420.57,591.47 L421.68,590.37 L422.79,589.32 L423.90,588.35 L425.01,587.45 L426.12,586.63 L427.23,585.89 L428.34,585.24 L429.45,584.69 L430.56,584.23 L431.67,583.87 L432.78,583.61 L433.89,583.45 L435.00,583.40 L480.00,583.40" fill="none" stroke="#23a05a" stroke-width="1.3" stroke-linejoin="round"/>
<path d="M414.15,598.69 l1.38,1.16 M416.88,595.50 l1.36,1.18 M419.69,592.38 l1.30,1.25 M422.68,589.43 l1.23,1.31 M425.93,586.77 l1.07,1.45 M429.54,584.65 l0.69,1.66 M433.56,583.50 l0.25,1.78 M437.76,583.40 l-0.00,1.80 M441.96,583.40 l-0.00,1.80 M446.16,583.40 l-0.00,1.80 M450.36,583.40 l-0.00,1.80 M454.56,583.40 l-0.00,1.80 M458.76,583.40 l-0.00,1.80 M462.96,583.40 l-0.00,1.80 M467.16,583.40 l-0.00,1.80 M471.36,583.40 l-0.00,1.80 M475.56,583.40 l-0.00,1.80 M479.76,583.40 l-0.00,1.80" fill="none" stroke="#23a05a" stroke-width="1.0" />
<path d="M462.60,564.20 L466.20,562.20 L466.50,566.20 L467.50,567.60 L469.00,574.00 L465.30,568.60 L464.10,567.00 Z" fill="#cc1a30" stroke="none" stroke-width="0" />
<text x="473.10" y="568.40" font-size="6.0" fill="#c42a3a" stroke="#c42a3a" stroke-width="0.1" textLength="19.90" lengthAdjust="spacingAndGlyphs" >R-loops</text>
<g>
<ellipse cx="487.60" cy="578.50" rx="12.10" ry="6.00" fill="#8cb6e2" stroke="#2c3f78" stroke-width="0.8" />
<text x="477.60" y="580.80" font-size="6.6" fill="#222" stroke="#222" stroke-width="0.1" textLength="20.00" lengthAdjust="spacingAndGlyphs" >RNAP2</text>
</g>
<text x="507.90" y="574.40" font-size="6.0" fill="#222" stroke="#222" stroke-width="0.1" textLength="10.10" lengthAdjust="spacingAndGlyphs" >TTS</text>
<line x1="512.80" y1="576.20" x2="512.80" y2="583.00" stroke="#333" stroke-width="0.8" />
<g>
<ellipse cx="495.00" cy="599.40" rx="12.20" ry="6.40" fill="#dcdcf0" stroke="#a8a8cc" stroke-width="0.8" />
<text x="485.00" y="601.70" font-size="6.6" fill="#666" stroke="#666" stroke-width="0.1" textLength="20.00" lengthAdjust="spacingAndGlyphs" >BRCA2</text>
</g>
<g>
<ellipse cx="504.00" cy="609.30" rx="11.90" ry="6.40" fill="#c8e6c8" stroke="#86c486" stroke-width="0.8" />
<text x="498.50" y="611.60" font-size="6.6" fill="#555" stroke="#555" stroke-width="0.1" textLength="11.00" lengthAdjust="spacingAndGlyphs" >RH2</text>
</g>
<line x1="489.30" y1="594.10" x2="508.30" y2="613.10" stroke="#ec5262" stroke-width="3.0" opacity="0.5"/>
<line x1="508.30" y1="594.10" x2="489.30" y2="613.10" stroke="#ec5262" stroke-width="3.0" opacity="0.5"/>
<line x1="432.00" y1="624.70" x2="432.00" y2="633.30" stroke="#7a7a7a" stroke-width="1.1" />
<path d="M429.00,631.80 L435.00,631.80 L432.00,637.80 Z" fill="#7a7a7a" stroke="none" stroke-width="0" />
<rect x="356.00" y="664.70" width="144.00" height="5.20" fill="url(#dg)" stroke="none" stroke-width="0" />
<line x1="356.00" y1="664.70" x2="500.00" y2="664.70" stroke="#a9bcd6" stroke-width="1.1" />
<line x1="356.00" y1="669.90" x2="500.00" y2="669.90" stroke="#5d7394" stroke-width="1.2" />
<g fill="#fff"><rect x="357.50" y="665.60" width="3.4" height="3.30"/><rect x="362.15" y="665.60" width="3.4" height="3.30"/><rect x="366.80" y="665.60" width="3.4" height="3.30"/><rect x="371.45" y="665.60" width="3.4" height="3.30"/><rect x="376.10" y="665.60" width="3.4" height="3.30"/><rect x="380.75" y="665.60" width="3.4" height="3.30"/><rect x="385.40" y="665.60" width="3.4" height="3.30"/><rect x="390.05" y="665.60" width="3.4" height="3.30"/><rect x="394.70" y="665.60" width="3.4" height="3.30"/><rect x="399.35" y="665.60" width="3.4" height="3.30"/><rect x="404.00" y="665.60" width="3.4" height="3.30"/><rect x="408.65" y="665.60" width="3.4" height="3.30"/><rect x="413.30" y="665.60" width="3.4" height="3.30"/><rect x="417.95" y="665.60" width="3.4" height="3.30"/><rect x="422.60" y="665.60" width="3.4" height="3.30"/><rect x="427.25" y="665.60" width="3.4" height="3.30"/><rect x="431.90" y="665.60" width="3.4" height="3.30"/><rect x="436.55" y="665.60" width="3.4" height="3.30"/><rect x="441.20" y="665.60" width="3.4" height="3.30"/><rect x="445.85" y="665.60" width="3.4" height="3.30"/><rect x="450.50" y="665.60" width="3.4" height="3.30"/><rect x="455.15" y="665.60" width="3.4" height="3.30"/><rect x="459.80" y="665.60" width="3.4" height="3.30"/><rect x="464.45" y="665.60" width="3.4" height="3.30"/><rect x="469.10" y="665.60" width="3.4" height="3.30"/><rect x="473.75" y="665.60" width="3.4" height="3.30"/><rect x="478.40" y="665.60" width="3.4" height="3.30"/><rect x="483.05" y="665.60" width="3.4" height="3.30"/><rect x="487.70" y="665.60" width="3.4" height="3.30"/><rect x="492.35" y="665.60" width="3.4" height="3.30"/></g>
<path d="M314.00,656.70 L343.20,656.70" fill="none" stroke="#9bb0cc" stroke-width="1.3" stroke-linejoin="round"/>
<path d="M316.80,656.70 l-0.00,2.00 M322.40,656.70 l-0.00,2.00 M328.00,656.70 l-0.00,2.00 M333.60,656.70 l-0.00,2.00 M339.20,656.70 l-0.00,2.00" fill="none" stroke="#9bb0cc" stroke-width="1.0" />
<path d="M314.00,677.20 L343.20,677.20" fill="none" stroke="#5d7394" stroke-width="1.3" stroke-linejoin="round"/>
<path d="M316.80,677.20 l0.00,-2.00 M322.40,677.20 l0.00,-2.00 M328.00,677.20 l0.00,-2.00 M333.60,677.20 l0.00,-2.00 M339.20,677.20 l0.00,-2.00" fill="none" stroke="#5d7394" stroke-width="1.0" />
<circle cx="345.50" cy="659.20" r="2.20" fill="#c4202f" stroke="none" stroke-width="0" />
<circle cx="349.80" cy="661.60" r="2.20" fill="#c4202f" stroke="none" stroke-width="0" />
<circle cx="354.20" cy="663.70" r="2.20" fill="#c4202f" stroke="none" stroke-width="0" />
<circle cx="345.50" cy="675.60" r="2.20" fill="#c4202f" stroke="none" stroke-width="0" />
<circle cx="349.80" cy="673.30" r="2.20" fill="#c4202f" stroke="none" stroke-width="0" />
<circle cx="354.20" cy="670.90" r="2.20" fill="#c4202f" stroke="none" stroke-width="0" />
<path d="M326.70,656.70 L326.70,650.50 L331.50,650.50" fill="none" stroke="#111" stroke-width="0.8" />
<path d="M331.00,649.20 L333.00,650.50 L331.00,651.80 Z" fill="#111" stroke="none" stroke-width="0" />
<text x="324.00" y="647.20" font-size="6.0" fill="#222" stroke="#222" stroke-width="0.1" textLength="11.00" lengthAdjust="spacingAndGlyphs" >TSS</text>
<path d="M441.00,665.10 L442.00,663.95 L443.00,662.80 L444.00,661.67 L445.00,660.56 L446.00,659.47 L447.00,658.43 L448.00,657.42 L449.00,656.46 L450.00,655.55 L451.00,654.71 L452.00,653.92 L453.00,653.21 L454.00,652.57 L455.00,652.00 L456.00,651.52 L457.00,651.12 L458.00,650.81 L459.00,650.58 L460.00,650.45 L461.00,650.40 L462.00,650.42 L463.00,650.48 L464.00,650.58 L465.00,650.72 L466.00,650.90 L467.00,651.12 L468.00,651.37 L469.00,651.66 L470.00,651.98 L471.00,652.33 L472.00,652.71 L473.00,653.12 L474.00,653.55 L475.00,654.00 L476.00,654.47 L477.00,654.96 L478.00,655.46 L479.00,655.97 L480.00,656.48 L481.00,657.00" fill="none" stroke="#a9bcd6" stroke-width="1.4" stroke-linejoin="round"/>
<path d="M442.48,663.40 l1.28,1.12 M445.47,660.05 l1.25,1.15 M448.62,656.83 l1.18,1.23 M452.03,653.90 l0.99,1.38 M455.88,651.58 l0.74,1.53 M460.20,650.44 l0.08,1.70 M464.69,650.68 l-0.24,1.68 M469.07,651.68 l-0.52,1.62 M473.29,653.24 l-0.67,1.56 M477.37,655.14 l-0.76,1.52" fill="none" stroke="#a9bcd6" stroke-width="1.0" />
<path d="M412.80,681.90 L413.91,680.62 L415.02,679.35 L416.13,678.09 L417.24,676.86 L418.35,675.66 L419.46,674.50 L420.57,673.38 L421.68,672.32 L422.79,671.31 L423.90,670.37 L425.01,669.51 L426.12,668.71 L427.23,668.00 L428.34,667.38 L429.45,666.84 L430.56,666.40 L431.67,666.05 L432.78,665.80 L433.89,665.65 L435.00,665.60 L482.00,665.60" fill="none" stroke="#23a05a" stroke-width="1.3" stroke-linejoin="round"/>
<path d="M414.18,680.31 l1.36,1.18 M416.96,677.17 l1.34,1.20 M419.84,674.11 l1.28,1.27 M422.89,671.23 l1.16,1.37 M426.21,668.66 l0.97,1.52 M429.90,666.66 l0.67,1.67 M433.95,665.65 l0.08,1.80 M438.15,665.60 l-0.00,1.80 M442.35,665.60 l-0.00,1.80 M446.55,665.60 l-0.00,1.80 M450.75,665.60 l-0.00,1.80 M454.95,665.60 l-0.00,1.80 M459.15,665.60 l-0.00,1.80 M463.35,665.60 l-0.00,1.80 M467.55,665.60 l-0.00,1.80 M471.75,665.60 l-0.00,1.80 M475.95,665.60 l-0.00,1.80 M480.15,665.60 l-0.00,1.80" fill="none" stroke="#23a05a" stroke-width="1.0" />
<path d="M463.20,646.40 L466.80,644.40 L467.10,648.40 L468.10,649.80 L469.60,656.20 L465.90,650.80 L464.70,649.20 Z" fill="#cc1a30" stroke="none" stroke-width="0" />
<g>
<ellipse cx="487.20" cy="660.20" rx="12.10" ry="6.00" fill="#8cb6e2" stroke="#2c3f78" stroke-width="0.8" />
<text x="477.20" y="662.50" font-size="6.6" fill="#222" stroke="#222" stroke-width="0.1" textLength="20.00" lengthAdjust="spacingAndGlyphs" >RNAP2</text>
</g>
<ellipse cx="501.60" cy="667.90" rx="2.60" ry="4.75" fill="none" stroke="#1e2a6e" stroke-width="1.7" />
<g filter="url(#bl3)">
<ellipse cx="508.40" cy="664.40" rx="3.30" ry="3.00" fill="#c6c8e1" stroke="none" stroke-width="0" />
<ellipse cx="508.40" cy="670.90" rx="3.30" ry="3.30" fill="#8190ad" stroke="none" stroke-width="0" />
<path d="M504.80,666.00 L509.20,667.60 L504.80,669.20 Z" fill="#fff" stroke="none" stroke-width="0" />
</g>
<path d="M510.60,661.60 L522.30,656.90 L556.60,656.90" fill="none" stroke="#9bb0cc" stroke-width="1.3" stroke-linejoin="round"/>
<path d="M513.20,660.56 l0.75,1.86 M518.39,658.47 l0.75,1.86 M523.69,656.90 l-0.00,2.00 M529.29,656.90 l-0.00,2.00 M534.89,656.90 l-0.00,2.00 M540.49,656.90 l-0.00,2.00 M546.09,656.90 l-0.00,2.00 M551.69,656.90 l-0.00,2.00" fill="none" stroke="#9bb0cc" stroke-width="1.0" />
<path d="M510.60,672.60 L522.30,677.20 L556.60,677.20" fill="none" stroke="#5d7394" stroke-width="1.3" stroke-linejoin="round"/>
<path d="M513.21,673.62 l0.73,-1.86 M518.42,675.67 l0.73,-1.86 M523.73,677.20 l0.00,-2.00 M529.33,677.20 l0.00,-2.00 M534.93,677.20 l0.00,-2.00 M540.53,677.20 l0.00,-2.00 M546.13,677.20 l0.00,-2.00 M551.73,677.20 l0.00,-2.00" fill="none" stroke="#5d7394" stroke-width="1.0" />
<text x="478.60" y="636.90" font-size="5.8" fill="#c42a3a" stroke="#c42a3a" stroke-width="0.1" textLength="84.50" lengthAdjust="spacingAndGlyphs" >HO-TRCs and genomic instability</text>
<text x="479.80" y="644.40" font-size="5.8" fill="#c42a3a" stroke="#c42a3a" stroke-width="0.1" textLength="82.20" lengthAdjust="spacingAndGlyphs" >at long, highly transcribed genes</text>
<text x="516.90" y="669.60" font-size="5.8" fill="#c42a3a" stroke="#c42a3a" stroke-width="0.1" textLength="50.90" lengthAdjust="spacingAndGlyphs" >dormant origin firing</text>
<line x1="431.80" y1="686.80" x2="431.80" y2="696.20" stroke="#7a7a7a" stroke-width="1.1" />
<path d="M428.80,694.70 L434.80,694.70 L431.80,700.70 Z" fill="#7a7a7a" stroke="none" stroke-width="0" />
<line x1="431.80" y1="710.90" x2="431.80" y2="720.20" stroke="#7a7a7a" stroke-width="1.1" />
<path d="M428.80,718.70 L434.80,718.70 L431.80,724.70 Z" fill="#7a7a7a" stroke="none" stroke-width="0" />
<path d="M388.9,729.3 L474.0,729.3 L474.0,762.0 L475.30,762.00 C475.22,763.08 475.10,766.58 474.80,768.50 C474.50,770.42 474.22,771.83 473.50,773.50 C472.78,775.17 471.67,777.08 470.50,778.50 C469.33,779.92 467.92,781.20 466.50,782.00 C465.08,782.80 463.42,783.22 462.00,783.30 C460.58,783.38 459.42,783.05 458.00,782.50 C456.58,781.95 454.92,781.08 453.50,780.00 C452.08,778.92 450.67,777.50 449.50,776.00 C448.33,774.50 447.25,772.75 446.50,771.00 C445.75,769.25 445.33,767.33 445.00,765.50 C444.67,763.67 444.83,761.67 444.50,760.00 C444.17,758.33 443.75,756.77 443.00,755.50 C442.25,754.23 441.10,753.08 440.00,752.40 C438.90,751.72 437.60,751.42 436.40,751.40 C435.20,751.38 433.95,751.70 432.80,752.30 C431.65,752.90 430.47,753.80 429.50,755.00 C428.53,756.20 427.65,757.92 427.00,759.50 C426.35,761.08 426.13,762.83 425.60,764.50 C425.07,766.17 424.65,768.08 423.80,769.50 C422.95,770.92 421.72,772.08 420.50,773.00 C419.28,773.92 417.83,774.75 416.50,775.00 C415.17,775.25 413.75,775.00 412.50,774.50 C411.25,774.00 410.03,773.08 409.00,772.00 C407.97,770.92 406.88,769.42 406.30,768.00 C405.72,766.58 405.55,765.08 405.50,763.50 C405.45,761.92 405.67,760.17 406.00,758.50 C406.33,756.83 407.10,755.33 407.50,753.50 C407.90,751.67 408.35,749.28 408.40,747.50 C408.45,745.72 408.33,744.18 407.80,742.80 C407.27,741.42 406.25,740.20 405.20,739.20 C404.15,738.20 402.82,737.33 401.50,736.80 C400.18,736.27 398.63,735.98 397.30,736.00 C395.97,736.02 394.72,736.37 393.50,736.90 C392.28,737.43 390.98,738.18 390.00,739.20 C389.02,740.22 388.00,742.37 387.60,743.00 L388.9,741 Z" fill="#ddd1da" stroke="none" stroke-width="0" />
<path d="M387.60,743.00 C388.00,742.37 389.02,740.22 390.00,739.20 C390.98,738.18 392.28,737.43 393.50,736.90 C394.72,736.37 395.97,736.02 397.30,736.00 C398.63,735.98 400.18,736.27 401.50,736.80 C402.82,737.33 404.15,738.20 405.20,739.20 C406.25,740.20 407.27,741.42 407.80,742.80 C408.33,744.18 408.45,745.72 408.40,747.50 C408.35,749.28 407.90,751.67 407.50,753.50 C407.10,755.33 406.33,756.83 406.00,758.50 C405.67,760.17 405.45,761.92 405.50,763.50 C405.55,765.08 405.72,766.58 406.30,768.00 C406.88,769.42 407.97,770.92 409.00,772.00 C410.03,773.08 411.25,774.00 412.50,774.50 C413.75,775.00 415.17,775.25 416.50,775.00 C417.83,774.75 419.28,773.92 420.50,773.00 C421.72,772.08 422.95,770.92 423.80,769.50 C424.65,768.08 425.07,766.17 425.60,764.50 C426.13,762.83 426.35,761.08 427.00,759.50 C427.65,757.92 428.53,756.20 429.50,755.00 C430.47,753.80 431.65,752.90 432.80,752.30 C433.95,751.70 435.20,751.38 436.40,751.40 C437.60,751.42 438.90,751.72 440.00,752.40 C441.10,753.08 442.25,754.23 443.00,755.50 C443.75,756.77 444.17,758.33 444.50,760.00 C444.83,761.67 444.67,763.67 445.00,765.50 C445.33,767.33 445.75,769.25 446.50,771.00 C447.25,772.75 448.33,774.50 449.50,776.00 C450.67,777.50 452.08,778.92 453.50,780.00 C454.92,781.08 456.58,781.95 458.00,782.50 C459.42,783.05 460.58,783.38 462.00,783.30 C463.42,783.22 465.08,782.80 466.50,782.00 C467.92,781.20 469.33,779.92 470.50,778.50 C471.67,777.08 472.78,775.17 473.50,773.50 C474.22,771.83 474.50,770.42 474.80,768.50 C475.10,766.58 475.22,763.08 475.30,762.00" fill="none" stroke="#c79fb8" stroke-width="6.4" stroke-linecap="butt" stroke-linejoin="round"/>
<path d="M387.60,743.00 C388.00,742.37 389.02,740.22 390.00,739.20 C390.98,738.18 392.28,737.43 393.50,736.90 C394.72,736.37 395.97,736.02 397.30,736.00 C398.63,735.98 400.18,736.27 401.50,736.80 C402.82,737.33 404.15,738.20 405.20,739.20 C406.25,740.20 407.27,741.42 407.80,742.80 C408.33,744.18 408.45,745.72 408.40,747.50 C408.35,749.28 407.90,751.67 407.50,753.50 C407.10,755.33 406.33,756.83 406.00,758.50 C405.67,760.17 405.45,761.92 405.50,763.50 C405.55,765.08 405.72,766.58 406.30,768.00 C406.88,769.42 407.97,770.92 409.00,772.00 C410.03,773.08 411.25,774.00 412.50,774.50 C413.75,775.00 415.17,775.25 416.50,775.00 C417.83,774.75 419.28,773.92 420.50,773.00 C421.72,772.08 422.95,770.92 423.80,769.50 C424.65,768.08 425.07,766.17 425.60,764.50 C426.13,762.83 426.35,761.08 427.00,759.50 C427.65,757.92 428.53,756.20 429.50,755.00 C430.47,753.80 431.65,752.90 432.80,752.30 C433.95,751.70 435.20,751.38 436.40,751.40 C437.60,751.42 438.90,751.72 440.00,752.40 C441.10,753.08 442.25,754.23 443.00,755.50 C443.75,756.77 444.17,758.33 444.50,760.00 C444.83,761.67 444.67,763.67 445.00,765.50 C445.33,767.33 445.75,769.25 446.50,771.00 C447.25,772.75 448.33,774.50 449.50,776.00 C450.67,777.50 452.08,778.92 453.50,780.00 C454.92,781.08 456.58,781.95 458.00,782.50 C459.42,783.05 460.58,783.38 462.00,783.30 C463.42,783.22 465.08,782.80 466.50,782.00 C467.92,781.20 469.33,779.92 470.50,778.50 C471.67,777.08 472.78,775.17 473.50,773.50 C474.22,771.83 474.50,770.42 474.80,768.50 C475.10,766.58 475.22,763.08 475.30,762.00" fill="none" stroke="#e4d9e1" stroke-width="5.0" stroke-linecap="butt" stroke-linejoin="round"/>
<path d="M385.40,741.61 L389.80,744.39 M387.16,738.82 L391.56,741.60 M390.33,735.87 L393.19,740.22 M394.09,734.09 L395.28,739.15 M398.39,733.56 L397.42,738.67 M401.63,734.18 L400.66,739.29 M405.38,736.22 L402.55,740.58 M408.38,739.16 L404.16,742.20 M410.47,743.15 L405.31,743.81 M410.88,746.42 L405.73,747.08 M410.59,750.41 L405.45,749.63 M410.10,753.67 L404.96,752.90 M409.11,757.20 L404.12,755.70 M408.47,759.91 L403.30,759.40 M408.14,763.20 L402.97,762.68 M408.54,765.74 L403.42,766.65 M409.27,767.76 L404.96,770.67 M411.12,770.49 L406.81,773.40 M413.15,771.77 L410.12,776.00 M415.04,772.20 L414.40,777.36 M416.68,772.00 L419.01,776.65 M418.84,770.97 L422.62,774.54 M421.10,768.57 L424.89,772.14 M422.07,766.62 L426.97,768.38 M423.13,763.69 L428.13,765.10 M424.02,760.52 L429.02,761.92 M425.46,756.91 L430.01,759.44 M427.07,754.03 L431.61,756.55 M430.15,751.11 L433.45,755.13 M434.12,749.29 L435.38,754.34 M438.63,749.32 L437.24,754.33 M442.67,751.42 L438.94,755.04 M445.51,754.82 L440.58,756.46 M446.56,757.95 L441.62,759.59 M447.27,761.76 L442.09,762.23 M447.57,765.04 L442.39,765.52 M448.32,767.79 L443.30,769.15 M449.08,770.24 L444.62,772.92 M450.78,773.07 L446.32,775.75 M452.36,775.18 L448.68,778.86 M454.70,777.52 L451.02,781.20 M456.85,778.89 L454.33,783.43 M459.04,780.06 L458.02,785.16 M462.28,780.70 L461.26,785.80 M464.22,779.95 L465.66,784.95 M466.05,778.94 L469.48,782.85 M468.54,776.76 L471.96,780.68 M469.80,774.62 L474.25,777.30 M471.09,772.43 L476.13,773.73 M471.92,769.23 L476.96,770.54 M472.35,766.44 L477.54,766.84 M472.60,763.15 L477.79,763.55" fill="none" stroke="#c9a2bb" stroke-width="0.6" />
<g fill="#c08aab"><circle cx="388.48" cy="741.60" r="0.5"/><circle cx="390.56" cy="739.13" r="0.5"/><circle cx="393.22" cy="737.33" r="0.5"/><circle cx="396.29" cy="736.37" r="0.5"/><circle cx="399.52" cy="736.42" r="0.5"/><circle cx="402.55" cy="737.57" r="0.5"/><circle cx="405.12" cy="739.54" r="0.5"/><circle cx="407.08" cy="742.08" r="0.5"/><circle cx="408.10" cy="745.12" r="0.5"/><circle cx="408.16" cy="748.39" r="0.5"/><circle cx="407.78" cy="751.65" r="0.5"/><circle cx="407.07" cy="754.87" r="0.5"/><circle cx="406.25" cy="758.05" r="0.5"/><circle cx="405.72" cy="761.30" r="0.5"/><circle cx="405.77" cy="764.57" r="0.5"/><circle cx="406.55" cy="767.70" r="0.5"/><circle cx="408.04" cy="770.58" r="0.5"/><circle cx="410.30" cy="772.92" r="0.5"/><circle cx="413.18" cy="774.33" r="0.5"/><circle cx="416.28" cy="774.55" r="0.5"/><circle cx="419.29" cy="773.54" r="0.5"/><circle cx="421.86" cy="771.56" r="0.5"/><circle cx="423.76" cy="768.93" r="0.5"/><circle cx="425.07" cy="765.95" r="0.5"/><circle cx="426.07" cy="762.81" r="0.5"/><circle cx="427.13" cy="759.69" r="0.5"/><circle cx="428.54" cy="756.73" r="0.5"/><circle cx="430.57" cy="754.20" r="0.5"/><circle cx="433.27" cy="752.47" r="0.5"/><circle cx="436.34" cy="751.82" r="0.5"/><circle cx="439.37" cy="752.53" r="0.5"/><circle cx="441.93" cy="754.44" r="0.5"/><circle cx="443.57" cy="757.20" r="0.5"/><circle cx="444.39" cy="760.38" r="0.5"/><circle cx="444.83" cy="763.64" r="0.5"/><circle cx="445.40" cy="766.88" r="0.5"/><circle cx="446.33" cy="770.03" r="0.5"/><circle cx="447.70" cy="773.00" r="0.5"/><circle cx="449.54" cy="775.72" r="0.5"/><circle cx="451.69" cy="778.19" r="0.5"/><circle cx="454.22" cy="780.26" r="0.5"/><circle cx="457.06" cy="781.88" r="0.5"/><circle cx="460.15" cy="782.93" r="0.5"/><circle cx="463.36" cy="782.85" r="0.5"/><circle cx="466.35" cy="781.67" r="0.5"/><circle cx="469.01" cy="779.81" r="0.5"/><circle cx="471.14" cy="777.34" r="0.5"/><circle cx="472.82" cy="774.52" r="0.5"/><circle cx="474.02" cy="771.48" r="0.5"/><circle cx="474.69" cy="768.26" r="0.5"/><circle cx="475.07" cy="764.99" r="0.5"/></g>
<g fill="#c8102e">
<circle cx="420.5" cy="774.5" r="3.2"/>
<circle cx="415.5" cy="772.8" r="3.0"/>
<circle cx="419.5" cy="771.0" r="3.0"/>
<circle cx="423.5" cy="770.0" r="3.0"/>
<circle cx="426.5" cy="772.2" r="2.8"/>
<circle cx="417.5" cy="776.5" r="3.0"/>
<circle cx="421.5" cy="777.5" r="3.2"/>
<circle cx="425.8" cy="776.5" r="3.0"/>
<circle cx="421.0" cy="780.8" r="2.6"/>
<circle cx="425.0" cy="780.5" r="2.4"/>
<ellipse cx="429.4" cy="782.9" rx="2.4" ry="3.3" transform="rotate(-35 429.4 782.9)"/>
</g>
<circle cx="417.50" cy="772.50" r="0.90" fill="#e8304a" stroke="none" stroke-width="0" />
<circle cx="423.00" cy="770.50" r="0.90" fill="#e8304a" stroke="none" stroke-width="0" />
<circle cx="426.50" cy="771.50" r="0.70" fill="#e8304a" stroke="none" stroke-width="0" />
<ellipse cx="438.50" cy="818.00" rx="34.00" ry="23.50" fill="#d5d5d5" stroke="none" stroke-width="0" transform="rotate(25 438.5 818)"/>
<ellipse cx="431.50" cy="816.00" rx="27.00" ry="20.00" fill="#eaeaea" stroke="none" stroke-width="0" transform="rotate(25 431.5 816)"/>
<g fill="#c8102e">
<circle cx="418.5" cy="793.8" r="2.5"/>
<circle cx="422.5" cy="792.3" r="2.5"/>
<circle cx="426.5" cy="791.8" r="2.5"/>
<circle cx="430.2" cy="792.8" r="2.5"/>
<circle cx="419.2" cy="797.8" r="2.5"/>
<circle cx="423.2" cy="796.8" r="2.5"/>
<circle cx="427.2" cy="796.3" r="2.5"/>
<circle cx="431.0" cy="795.8" r="2.5"/>
<circle cx="421.2" cy="800.0" r="2.5"/>
<circle cx="425.2" cy="799.5" r="2.5"/>
</g>
<text x="326.60" y="754.20" font-size="6.0" fill="#c42a3a" stroke="#c42a3a" stroke-width="0.1" textLength="69.60" lengthAdjust="spacingAndGlyphs" >compromised FTE integrity</text>
<text x="380.40" y="783.40" font-size="6.0" fill="#c42a3a" stroke="#c42a3a" stroke-width="0.1" textLength="32.90" lengthAdjust="spacingAndGlyphs" >STIC lesions</text>
<text x="410.40" y="809.60" font-size="6.2" fill="#b3202f" stroke="#b3202f" stroke-width="0.1" textLength="35.10" lengthAdjust="spacingAndGlyphs" >early HGSOC</text>
</svg>
</body></html>
